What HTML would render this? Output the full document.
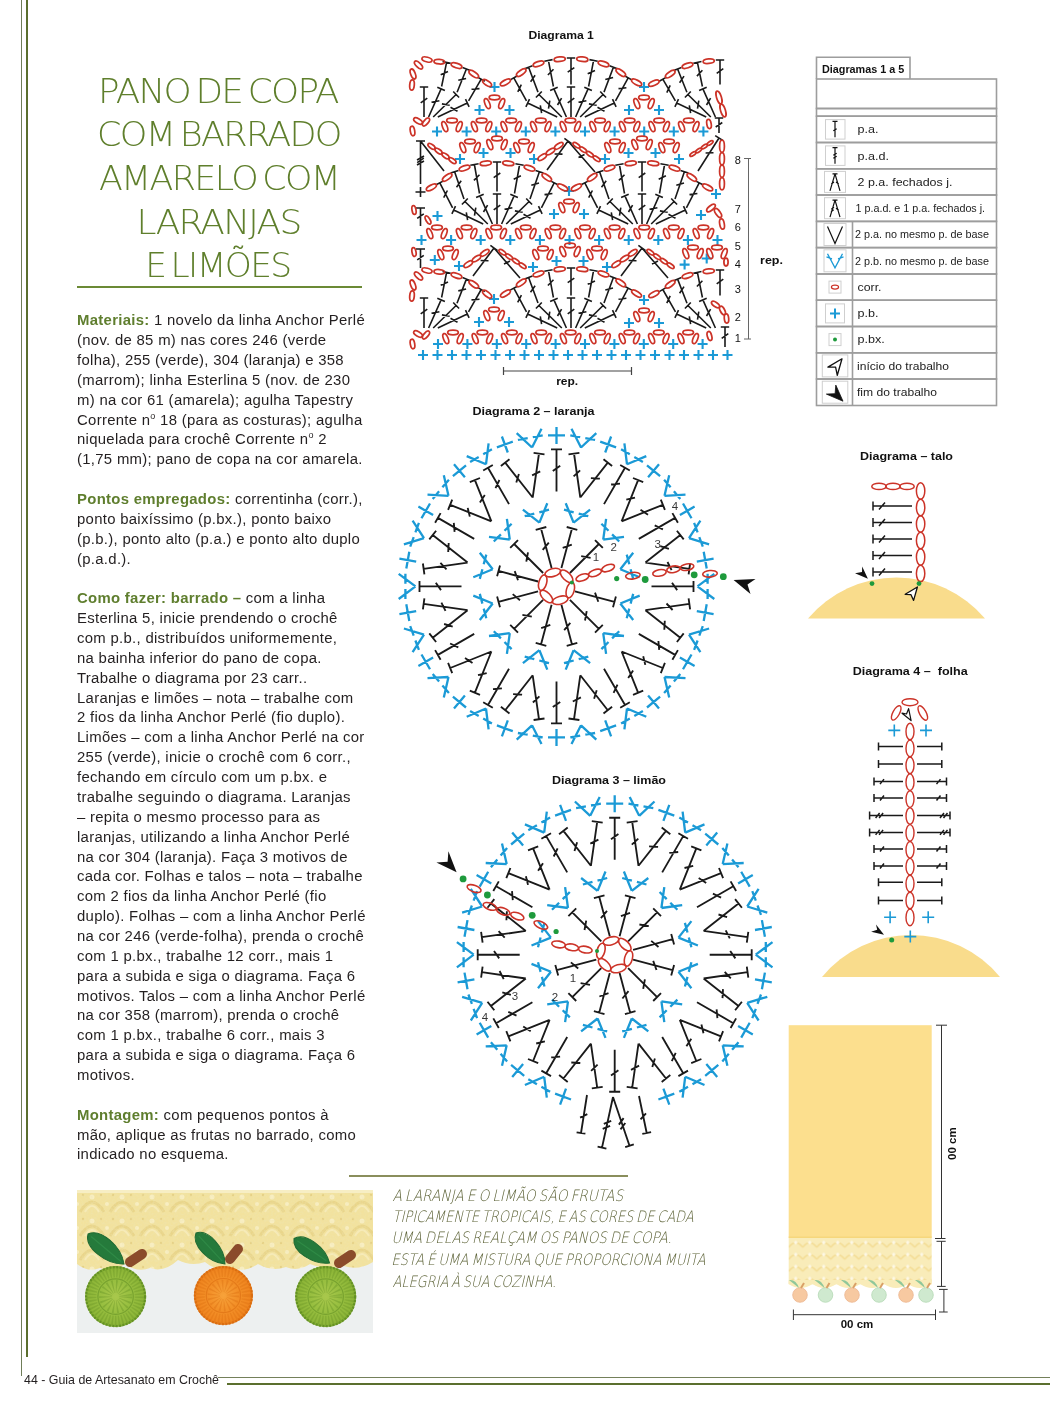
<!DOCTYPE html><html lang="pt"><head><meta charset="utf-8"><title>Pano de copa com barrado amarelo com laranjas e limões</title><style>
*{margin:0;padding:0;box-sizing:border-box}
html,body{width:1050px;height:1408px;background:#fff;overflow:hidden}
body{position:relative;font-family:"Liberation Sans",Arial,sans-serif;color:#231f20}
.abs{position:absolute}
.vl1{left:21px;top:0;width:1px;height:1376px;background:#6f7d58}
.vl2{left:26px;top:0;width:2px;height:1357px;background:#5b6f2e}
.hl1{left:218px;top:1377px;width:832px;height:1px;background:#74805a}
.hl2{left:227px;top:1383px;width:823px;height:2px;background:#5b6f2e}
.foot{left:24px;top:1372.5px;font-size:12.4px;line-height:14px;color:#231f20;white-space:nowrap}
.title{left:60px;top:72px;width:320px;text-align:center;color:#6b8a35;font-size:35.5px;line-height:43.3px;font-weight:300;white-space:nowrap}
.tline{left:77px;top:286px;width:285px;height:2px;background:#6b8a35}
.txt{left:77px;top:311.3px;font-size:14.9px;line-height:19.865px;letter-spacing:0.3px;white-space:nowrap;color:#231f20}
.txt sup{font-size:9px;line-height:0;vertical-align:0;position:relative;top:-6px}
.txt b{color:#5f7e2e}
.cap{left:393px;top:1184px;font-size:16px;line-height:21.6px;font-style:italic;color:#8a8e5c;white-space:nowrap}
.capline{left:349px;top:1175px;width:279px;height:2px;background:#8a8e5c}
.lbl{font-weight:bold;font-size:11.5px;white-space:nowrap;color:#111}
</style></head><body>
<div class="abs vl1"></div><div class="abs vl2"></div><div class="abs hl1"></div><div class="abs hl2"></div>
<div class="abs foot">44 - Guia de Artesanato em Crochê</div>
<svg class="abs" style="left:80px;top:60px" width="280" height="230" viewBox="80 60 280 230"><g font-family="DejaVu Sans, sans-serif" font-weight="200" font-size="33.9" fill="#5f7f2c" word-spacing="-4.0" letter-spacing="-1.6"><text x="98.1" y="103.4" textLength="239.8" lengthAdjust="spacingAndGlyphs">PANO DE COPA</text><text x="97.0" y="145.5" textLength="243.8" lengthAdjust="spacingAndGlyphs">COM BARRADO</text><text x="98.9" y="190.4" textLength="240.3" lengthAdjust="spacingAndGlyphs">AMARELO COM</text><text x="136.5" y="233.8" textLength="164.0" lengthAdjust="spacingAndGlyphs">LARANJAS</text><text x="145.2" y="277.1" textLength="145.3" lengthAdjust="spacingAndGlyphs">E LIMÕES</text></g></svg>
<div class="abs tline"></div>
<div class="abs txt"><b>Materiais:</b> 1 novelo da linha Anchor Perlé<br>(nov. de 85 m) nas cores 246 (verde<br>folha), 255 (verde), 304 (laranja) e 358<br>(marrom); linha Esterlina 5 (nov. de 230<br>m) na cor 61 (amarela); agulha Tapestry<br>Corrente n<sup>o</sup> 18 (para as costuras); agulha<br>niquelada para crochê Corrente n<sup>o</sup> 2<br>(1,75 mm); pano de copa na cor amarela.<br>&nbsp;<br><b>Pontos empregados:</b> correntinha (corr.),<br>ponto baixíssimo (p.bx.), ponto baixo<br>(p.b.), ponto alto (p.a.) e ponto alto duplo<br>(p.a.d.).<br>&nbsp;<br><b>Como fazer: barrado –</b> com a linha<br>Esterlina 5, inicie prendendo o crochê<br>com p.b., distribuídos uniformemente,<br>na bainha inferior do pano de copa.<br>Trabalhe o diagrama por 23 carr..<br>Laranjas e limões – nota – trabalhe com<br>2 fios da linha Anchor Perlé (fio duplo).<br>Limões – com a linha Anchor Perlé na cor<br>255 (verde), inicie o crochê com 6 corr.,<br>fechando em círculo com um p.bx. e<br>trabalhe seguindo o diagrama. Laranjas<br>– repita o mesmo processo para as<br>laranjas, utilizando a linha Anchor Perlé<br>na cor 304 (laranja). Faça 3 motivos de<br>cada cor. Folhas e talos – nota – trabalhe<br>com 2 fios da linha Anchor Perlé (fio<br>duplo). Folhas – com a linha Anchor Perlé<br>na cor 246 (verde-folha), prenda o crochê<br>com 1 p.bx., trabalhe 12 corr., mais 1<br>para a subida e siga o diagrama. Faça 6<br>motivos. Talos – com a linha Anchor Perlé<br>na cor 358 (marrom), prenda o crochê<br>com 1 p.bx., trabalhe 6 corr., mais 3<br>para a subida e siga o diagrama. Faça 6<br>motivos.<br>&nbsp;<br><b>Montagem:</b> com pequenos pontos à<br>mão, aplique as frutas no barrado, como<br>indicado no esquema.</div>
<div class="abs capline"></div>
<svg class="abs" style="left:385px;top:1180px" width="330" height="115" viewBox="385 1180 330 115"><g font-family="DejaVu Sans, sans-serif" font-weight="200" font-size="15.8" fill="#5c6236" word-spacing="-1.5"><text transform="translate(392.4 1200.9) skewX(-13)" textLength="230.7" lengthAdjust="spacingAndGlyphs">A LARANJA E O LIMÃO SÃO FRUTAS</text><text transform="translate(392.6 1222.3) skewX(-13)" textLength="301.0" lengthAdjust="spacingAndGlyphs">TIPICAMENTE TROPICAIS, E AS CORES DE CADA</text><text transform="translate(391.4 1243.4) skewX(-13)" textLength="280.4" lengthAdjust="spacingAndGlyphs">UMA DELAS REALÇAM OS PANOS DE COPA.</text><text transform="translate(391.2 1265.2) skewX(-13)" textLength="314.3" lengthAdjust="spacingAndGlyphs">ESTA É UMA MISTURA QUE PROPORCIONA MUITA</text><text transform="translate(392.4 1286.6) skewX(-13)" textLength="163.7" lengthAdjust="spacingAndGlyphs">ALEGRIA À SUA COZINHA.</text></g></svg>
<svg class="abs" style="left:77px;top:1190px" width="296" height="143" viewBox="77 1190 296 143"><defs><pattern id="knit" x="77" y="1190" width="30" height="24" patternUnits="userSpaceOnUse"><rect width="30" height="24" fill="#f2e29e"/><path d="M3 22 Q15 2 27 22" fill="none" stroke="#e9d58a" stroke-width="3"/><path d="M8 22 Q15 10 22 22" fill="none" stroke="#f7ebb8" stroke-width="2"/><circle cx="15" cy="7" r="2.5" fill="#f8eec2"/><circle cx="0" cy="14" r="2" fill="#f8eec2"/><circle cx="30" cy="14" r="2" fill="#f8eec2"/><circle cx="6" cy="5" r="1.2" fill="#e6d185"/><circle cx="24" cy="5" r="1.2" fill="#e6d185"/></pattern><filter id="grain" x="0" y="0" width="100%" height="100%"><feTurbulence type="fractalNoise" baseFrequency="0.45" numOctaves="2" seed="3"/><feColorMatrix values="0 0 0 0 0.85  0 0 0 0 0.78  0 0 0 0 0.45  0 0 0 0.9 -0.35"/><feComposite in2="SourceGraphic" operator="in"/></filter><radialGradient id="lime" cx="50%" cy="50%" r="50%"><stop offset="0" stop-color="#a9c84c"/><stop offset="0.5" stop-color="#98bf40"/><stop offset="0.9" stop-color="#8db638"/><stop offset="1" stop-color="#7aa62e"/></radialGradient><radialGradient id="orng" cx="50%" cy="50%" r="50%"><stop offset="0" stop-color="#f7a23a"/><stop offset="0.5" stop-color="#f39028"/><stop offset="0.9" stop-color="#f08620"/><stop offset="1" stop-color="#e27818"/></radialGradient></defs><rect x="77" y="1190" width="296" height="143" fill="#edf0f0"/><path d="M77 1190H373V1262 Q358.5 1271 344 1266 Q327 1271 310 1264 Q298 1272 286 1267 Q272 1272 258 1264 Q244.5 1273 231 1268 Q218 1273 205 1262 Q191.5 1267 178 1260 Q164 1273 150 1268 Q137.5 1273 125 1264 Q112.5 1273 100 1268 Q88.5 1273 77 1264Z" fill="url(#knit)"/><path d="M77 1190H373V1262 Q358.5 1271 344 1266 Q327 1271 310 1264 Q298 1272 286 1267 Q272 1272 258 1264 Q244.5 1273 231 1268 Q218 1273 205 1262 Q191.5 1267 178 1260 Q164 1273 150 1268 Q137.5 1273 125 1264 Q112.5 1273 100 1268 Q88.5 1273 77 1264Z" fill="#f2e29e" filter="url(#grain)"/><rect x="77" y="1190" width="296" height="3" fill="#f7eec4"/><path d="M130 1262L142 1254" stroke="#8b4b2b" stroke-width="10" stroke-linecap="round"/><path d="M230 1259L238 1249" stroke="#8b4b2b" stroke-width="10" stroke-linecap="round"/><path d="M339 1263L351 1255" stroke="#8b4b2b" stroke-width="10" stroke-linecap="round"/><g transform="translate(106 1249) rotate(39.8)"><path d="M-23.4 0C-17.6 -13 10.5 -11.7 23.4 0C10.5 11.7 -17.6 13 -23.4 0Z" fill="#257a3b" stroke="#1f6a33" stroke-width="1"/><path d="M-19.4 0H19.4" stroke="#2f8a46" stroke-width="1.2"/></g><g transform="translate(210.5 1248.5) rotate(46.9)"><path d="M-21.2 0C-15.9 -12 9.6 -10.8 21.2 0C9.6 10.8 -15.9 12 -21.2 0Z" fill="#257a3b" stroke="#1f6a33" stroke-width="1"/><path d="M-17.2 0H17.2" stroke="#2f8a46" stroke-width="1.2"/></g><g transform="translate(311.8 1250.8) rotate(34.6)"><path d="M-21.6 0C-16.2 -12 9.7 -10.8 21.6 0C9.7 10.8 -16.2 12 -21.6 0Z" fill="#257a3b" stroke="#1f6a33" stroke-width="1"/><path d="M-17.6 0H17.6" stroke="#2f8a46" stroke-width="1.2"/></g><circle cx="115.6" cy="1296.6" r="30.5" fill="url(#lime)"/><circle cx="115.6" cy="1296.6" r="10.1" fill="none" stroke="#5f8c22" stroke-width="12.8" stroke-dasharray="1.2 2.2" opacity="0.35"/><circle cx="115.6" cy="1296.6" r="17.7" fill="none" stroke="#5f8c22" stroke-width="1.2" opacity="0.55"/><circle cx="115.6" cy="1296.6" r="23.8" fill="none" stroke="#5f8c22" stroke-width="9.2" stroke-dasharray="1.5 1.8" opacity="0.3"/><circle cx="115.6" cy="1296.6" r="29.5" fill="none" stroke="#5f8c22" stroke-width="2.2" stroke-dasharray="2 1.4" opacity="0.85"/><circle cx="223.4" cy="1295.6" r="29.5" fill="url(#orng)"/><circle cx="223.4" cy="1295.6" r="9.7" fill="none" stroke="#d86a0e" stroke-width="12.4" stroke-dasharray="1.2 2.2" opacity="0.35"/><circle cx="223.4" cy="1295.6" r="17.1" fill="none" stroke="#d86a0e" stroke-width="1.2" opacity="0.55"/><circle cx="223.4" cy="1295.6" r="23" fill="none" stroke="#d86a0e" stroke-width="8.8" stroke-dasharray="1.5 1.8" opacity="0.3"/><circle cx="223.4" cy="1295.6" r="28.5" fill="none" stroke="#d86a0e" stroke-width="2.2" stroke-dasharray="2 1.4" opacity="0.85"/><circle cx="325.7" cy="1296.6" r="30.5" fill="url(#lime)"/><circle cx="325.7" cy="1296.6" r="10.1" fill="none" stroke="#5f8c22" stroke-width="12.8" stroke-dasharray="1.2 2.2" opacity="0.35"/><circle cx="325.7" cy="1296.6" r="17.7" fill="none" stroke="#5f8c22" stroke-width="1.2" opacity="0.55"/><circle cx="325.7" cy="1296.6" r="23.8" fill="none" stroke="#5f8c22" stroke-width="9.2" stroke-dasharray="1.5 1.8" opacity="0.3"/><circle cx="325.7" cy="1296.6" r="29.5" fill="none" stroke="#5f8c22" stroke-width="2.2" stroke-dasharray="2 1.4" opacity="0.85"/></svg>
<svg class="abs" style="left:400px;top:20px" width="400" height="375" viewBox="400 20 400 375"><path d="M719 133L719 118M714.8 118L723.2 118M715.7 127L722.3 122.5M557.2 328L527.7 314M525.9 317.8L529.5 310.2M541.6 324.2L540.3 316.4M526.5 311.8L513.8 288.1M510.1 290.1L517.5 286.2M517.7 302.4L521.4 295.2M561.8 328L538.9 305.5M535.9 308.5L541.8 302.5M548.5 319.6L549.8 311.7M538 303.1L528.6 277.4M524.6 278.9L532.5 276M530.5 292.3L535.1 285.7M566.4 328L553.9 299.9M550.1 301.6L557.7 298.2M557.5 316L561.6 309.1M553.4 297.5L548.4 270.4M544.3 271.2L552.6 269.7M547.9 285.5L553.5 279.7M571 328L571 298M566.8 298L575.2 298M567.7 313.8L574.3 309.2M571 295.5L571 268M566.8 268L575.2 268M567.7 282.7L574.3 278.1M575.6 328L588.1 299.9M584.3 298.2L591.9 301.6M578.5 313.3L586.4 311.8M588.6 297.5L593.6 270.4M589.4 269.7L597.7 271.2M587.7 284.3L595 280.9M580.2 328L603.1 305.5M600.2 302.5L606.1 308.5M588.9 314.9L596.7 316.3M604 303.1L613.4 277.4M609.5 276L617.4 278.9M605.3 290L613 288M584.8 328L614.3 314M612.5 310.2L616.1 317.8M597.5 318.3L604.5 322.3M615.5 311.8L628.2 288.1M624.5 286.2L631.9 290.1M618.5 299.3L626.4 298.3M424 328L424 298M419.8 298L428.2 298M420.7 313.8L427.3 309.2M428.6 328L441.1 299.9M437.3 298.2L444.9 301.6M431.5 313.3L439.4 311.8M441.6 297.5L446.6 272.4M442.5 271.5L450.7 273.2M440.7 285.3L448 282M433.2 328L456.1 305.5M453.2 302.5L459.1 308.5M441.9 314.9L449.7 316.3M457 303.2L466.4 279.1M462.5 277.6L470.3 280.7M458.3 290.9L466.1 289M437.8 328L467.3 314M465.5 310.2L469.1 317.8M450.5 318.3L457.5 322.3M468.5 311.8L481.2 289.5M477.5 287.4L484.8 291.6M471.5 299.9L479.5 299.2M706.2 328L676.7 314M674.9 317.8L678.5 310.2M690.6 324.2L689.3 316.4M675.5 311.8L662.8 289.5M659.2 291.6L666.5 287.4M666.8 303.2L670.2 295.9M710.8 328L687.9 305.5M684.9 308.5L690.8 302.5M697.5 319.6L698.8 311.7M687 303.2L677.6 279.1M673.7 280.7L681.5 277.6M679.6 293.3L684 286.6M715.4 328L702.9 299.9M699.1 301.6L706.7 298.2M706.5 316L710.6 309.1M702.4 297.5L697.4 272.4M693.3 273.2L701.5 271.5M696.9 286.5L702.4 280.8M720 295.5L720 270M715.8 270L724.2 270M716.7 283.8L723.3 279.2M483.2 224L453.7 210M451.9 213.8L455.5 206.2M467.6 220.2L466.3 212.4M452.6 207.8L439.8 182.8M436.1 184.7L443.6 180.9M443.7 197.6L447.4 190.5M487.8 224L464.9 201.5M461.9 204.5L467.8 198.5M474.5 215.6L475.8 207.7M464 199.1L454.6 171.7M450.6 173.1L458.5 170.4M456.5 187.3L461.2 180.8M492.4 224L479.9 195.9M476.1 197.6L483.7 194.2M483.5 212L487.6 205.1M479.5 193.5L474.4 164.5M470.3 165.2L478.6 163.8M473.9 180.4L479.5 174.7M497 224L497 194M492.8 194L501.2 194M493.7 209.8L500.3 205.2M497 191.5L497 162M492.8 162L501.2 162M493.7 177.6L500.3 173M501.6 224L514.1 195.9M510.3 194.2L517.9 197.6M504.5 209.3L512.4 207.8M514.5 193.5L519.6 164.5M515.4 163.8L523.7 165.2M513.7 179.2L520.9 175.8M506.2 224L529.1 201.5M526.2 198.5L532.1 204.5M514.9 210.9L522.7 212.3M530 199.1L539.4 171.7M535.5 170.4L543.4 173.1M531.3 185.2L539 183M510.8 224L540.3 210M538.5 206.2L542.1 213.8M523.5 214.3L530.5 218.3M541.4 207.8L554.2 182.8M550.4 180.9L557.9 184.7M544.5 194.6L552.4 193.5M628.2 224L598.7 210M596.9 213.8L600.5 206.2M612.6 220.2L611.3 212.4M597.6 207.8L584.8 182.8M581.1 184.7L588.6 180.9M588.7 197.6L592.4 190.5M632.8 224L609.9 201.5M606.9 204.5L612.8 198.5M619.5 215.6L620.8 207.7M609 199.1L599.6 171.7M595.6 173.1L603.5 170.4M601.5 187.3L606.2 180.8M637.4 224L624.9 195.9M621.1 197.6L628.7 194.2M628.5 212L632.6 205.1M624.5 193.5L619.4 164.5M615.3 165.2L623.6 163.8M618.9 180.4L624.5 174.7M642 224L642 194M637.8 194L646.2 194M638.7 209.8L645.3 205.2M642 191.5L642 162M637.8 162L646.2 162M638.7 177.6L645.3 173M646.6 224L659.1 195.9M655.3 194.2L662.9 197.6M649.5 209.3L657.4 207.8M659.5 193.5L664.6 164.5M660.4 163.8L668.7 165.2M658.7 179.2L665.9 175.8M651.2 224L674.1 201.5M671.2 198.5L677.1 204.5M659.9 210.9L667.7 212.3M675 199.1L684.4 171.7M680.5 170.4L688.4 173.1M676.3 185.2L684 183M655.8 224L685.3 210M683.5 206.2L687.1 213.8M668.5 214.3L675.5 218.3M686.4 207.8L699.2 182.8M695.4 180.9L702.9 184.7M689.5 194.6L697.4 193.5M415.5 192L425.5 192M420.5 187L420.5 197M557.2 117L527.7 103M525.9 106.8L529.5 99.2M541.6 113.2L540.3 105.4M526.5 100.8L513.8 77.8M510.2 79.9L517.5 75.8M517.8 91.8L521.3 84.6M561.8 117L538.9 94.5M535.9 97.5L541.8 91.5M548.5 108.6L549.8 100.7M538 92.1L528.6 67.3M524.6 68.8L532.5 65.8M530.6 81.8L535.1 75.2M566.4 117L553.9 88.9M550.1 90.6L557.7 87.2M557.5 105L561.6 98.1M553.4 86.5L548.4 60.4M544.3 61.2L552.6 59.6M547.9 75L553.5 69.3M571 117L571 87M566.8 87L575.2 87M567.7 102.8L574.3 98.2M571 84.5L571 58M566.8 58L575.2 58M567.7 72.2L574.3 67.6M575.6 117L588.1 88.9M584.3 87.2L591.9 90.6M578.5 102.3L586.4 100.8M588.6 86.5L593.6 60.4M589.4 59.6L597.7 61.2M587.7 73.8L595 70.5M580.2 117L603.1 94.5M600.2 91.5L606.1 97.5M588.9 103.9L596.7 105.3M604 92.1L613.4 67.3M609.5 65.8L617.4 68.8M605.3 79.5L613.1 77.5M584.8 117L614.3 103M612.5 99.2L616.1 106.8M597.5 107.3L604.5 111.3M615.5 100.8L628.2 77.8M624.5 75.8L631.8 79.9M618.5 88.6L626.4 87.7M424 117L424 87M419.8 87L428.2 87M420.7 102.8L427.3 98.2M428.6 117L441.1 88.9M437.3 87.2L444.9 90.6M431.5 102.3L439.4 100.8M441.6 86.5L446.6 62.3M442.5 61.5L450.7 63.2M440.7 74.8L448 71.6M433.2 117L456.1 94.5M453.2 91.5L459.1 97.5M441.9 103.9L449.7 105.3M457.1 92.2L466.4 69M462.5 67.4L470.3 70.5M458.3 80.3L466.1 78.5M437.8 117L467.3 103M465.5 99.2L469.1 106.8M450.5 107.3L457.5 111.3M468.6 100.8L481.2 79.2M477.5 77.1L484.8 81.3M471.5 89.3L479.5 88.6M706.2 117L676.7 103M674.9 106.8L678.5 99.2M690.6 113.2L689.3 105.4M675.4 100.8L662.8 79.2M659.2 81.3L666.5 77.1M666.8 92.6L670.2 85.3M710.8 117L687.9 94.5M684.9 97.5L690.8 91.5M697.5 108.6L698.8 100.7M686.9 92.2L677.6 69M673.7 70.5L681.5 67.4M679.6 82.8L684 76.1M715.4 117L702.9 88.9M699.1 90.6L706.7 87.2M706.5 105L710.6 98.1M702.4 86.5L697.4 62.3M693.3 63.2L701.5 61.5M696.9 76.1L702.4 70.3M720 84.5L720 60M715.8 60L724.2 60M716.7 73.3L723.3 68.7M473 276L494 248M490.4 245.3L497.6 250.7M480.6 260.5L488.5 260.7M494 248L520 278M504 264L510 261M621 276L642 248M638.4 245.3L645.6 250.7M628.6 260.5L636.5 260.7M642 248L668 278M652 264L658 261M547 170L568 141M564.4 138.4L571.6 143.6M554.6 154L562.5 154.1M568 141L595 172M578.5 157.5L584.5 154.5M420.5 184L420.5 141M416 141L425 141M417.2 162.6L423.8 158.1M420.5 141L444 171M417 160L424 156M417 165L424 161M420.5 226L420.5 208M416 208L425 208M417.2 218.4L423.8 213.8M420.5 268L420.5 249M416 249L425 249M417.2 259.8L423.8 255.3M725 347L725 327M720.8 327L729.2 327M721.7 338.3L728.3 333.7M698 171L719 138M715.2 135.6L722.8 140.4M705.6 153L713.5 152.7" fill="none" stroke="#1a1a1a" stroke-width="1.6" stroke-linecap="butt"/><path d="M418 355L428 355M423 350L423 360M432.5 355L442.5 355M437.5 350L437.5 360M447 355L457 355M452 350L452 360M461.5 355L471.5 355M466.5 350L466.5 360M476 355L486 355M481 350L481 360M490.5 355L500.5 355M495.5 350L495.5 360M505 355L515 355M510 350L510 360M519.5 355L529.5 355M524.5 350L524.5 360M534 355L544 355M539 350L539 360M548.5 355L558.5 355M553.5 350L553.5 360M563 355L573 355M568 350L568 360M577.5 355L587.5 355M582.5 350L582.5 360M592 355L602 355M597 350L597 360M606.5 355L616.5 355M611.5 350L611.5 360M621 355L631 355M626 350L626 360M635.5 355L645.5 355M640.5 350L640.5 360M650 355L660 355M655 350L655 360M664.5 355L674.5 355M669.5 350L669.5 360M679 355L689 355M684 350L684 360M693.5 355L703.5 355M698.5 350L698.5 360M708 355L718 355M713 350L713 360M722.5 355L732.5 355M727.5 350L727.5 360M433 344L443 344M438 339L438 349M462.4 344L472.4 344M467.4 339L467.4 349M491.8 344L501.8 344M496.8 339L496.8 349M521.2 344L531.2 344M526.2 339L526.2 349M550.6 344L560.6 344M555.6 339L555.6 349M580 344L590 344M585 339L585 349M609.4 344L619.4 344M614.4 339L614.4 349M638.8 344L648.8 344M643.8 339L643.8 349M668.2 344L678.2 344M673.2 339L673.2 349M697.6 344L707.6 344M702.6 339L702.6 349M416.5 240L426.5 240M421.5 235L421.5 245M446.1 240L456.1 240M451.1 235L451.1 245M475.7 240L485.7 240M480.7 235L480.7 245M505.3 240L515.3 240M510.3 235L510.3 245M534.9 240L544.9 240M539.9 235L539.9 245M564.5 240L574.5 240M569.5 235L569.5 245M594.1 240L604.1 240M599.1 235L599.1 245M623.7 240L633.7 240M628.7 235L628.7 245M653.3 240L663.3 240M658.3 235L658.3 245M682.9 240L692.9 240M687.9 235L687.9 245M712.5 240L722.5 240M717.5 235L717.5 245M432 131.5L442 131.5M437 126.5L437 136.5M461.6 131.5L471.6 131.5M466.6 126.5L466.6 136.5M491.2 131.5L501.2 131.5M496.2 126.5L496.2 136.5M520.8 131.5L530.8 131.5M525.8 126.5L525.8 136.5M550.4 131.5L560.4 131.5M555.4 126.5L555.4 136.5M580 131.5L590 131.5M585 126.5L585 136.5M609.6 131.5L619.6 131.5M614.6 126.5L614.6 136.5M639.2 131.5L649.2 131.5M644.2 126.5L644.2 136.5M668.8 131.5L678.8 131.5M673.8 126.5L673.8 136.5M698.4 131.5L708.4 131.5M703.4 126.5L703.4 136.5M489 299L499 299M494 294L494 304M474 322L484 322M479 317L479 327M504 322L514 322M509 317L509 327M639 300L649 300M644 295L644 305M624 323L634 323M629 318L629 328M654 323L664 323M659 318L659 328M564 191L574 191M569 186L569 196M549 214L559 214M554 209L554 219M579 214L589 214M584 209L584 219M711 194L721 194M716 189L716 199M489.5 87L499.5 87M494.5 82L494.5 92M474.5 110L484.5 110M479.5 105L479.5 115M504.5 110L514.5 110M509.5 105L509.5 115M639 87L649 87M644 82L644 92M624 110L634 110M629 105L629 115M654 110L664 110M659 105L659 115M551.5 261L561.5 261M556.5 256L556.5 266M578.5 261L588.5 261M583.5 256L583.5 266M528 267L538 267M533 262L533 272M602 267L612 267M607 262L607 272M429.8 260L439.8 260M434.8 255L434.8 265M454 266L464 266M459 261L459 271M679.6 264.6L689.6 264.6M684.6 259.6L684.6 269.6M701.7 258.5L711.7 258.5M706.7 253.5L706.7 263.5M478.5 153L488.5 153M483.5 148L483.5 158M505.5 153L515.5 153M510.5 148L510.5 158M455 159L465 159M460 154L460 164M529 159L539 159M534 154L534 164M623.5 153L633.5 153M628.5 148L628.5 158M650.5 153L660.5 153M655.5 148L655.5 158M600 159L610 159M605 154L605 164M674 159L684 159M679 154L679 164M696 215L706 215M701 210L701 220M432.5 216L442.5 216M437.5 211L437.5 221" fill="none" stroke="#1b9ad6" stroke-width="2.1"/><g fill="none" stroke="#cc3328" stroke-width="1.75"><ellipse cx="453" cy="332.5" rx="5.3" ry="2.3"/><ellipse cx="445.8" cy="338.6" rx="5.3" ry="2.3" transform="rotate(68 445.8 338.6)"/><ellipse cx="460.2" cy="338.6" rx="5.3" ry="2.3" transform="rotate(-68 460.2 338.6)"/><ellipse cx="482.4" cy="332.5" rx="5.3" ry="2.3"/><ellipse cx="475.2" cy="338.6" rx="5.3" ry="2.3" transform="rotate(68 475.2 338.6)"/><ellipse cx="489.6" cy="338.6" rx="5.3" ry="2.3" transform="rotate(-68 489.6 338.6)"/><ellipse cx="511.8" cy="332.5" rx="5.3" ry="2.3"/><ellipse cx="504.6" cy="338.6" rx="5.3" ry="2.3" transform="rotate(68 504.6 338.6)"/><ellipse cx="519" cy="338.6" rx="5.3" ry="2.3" transform="rotate(-68 519 338.6)"/><ellipse cx="541.2" cy="332.5" rx="5.3" ry="2.3"/><ellipse cx="534" cy="338.6" rx="5.3" ry="2.3" transform="rotate(68 534 338.6)"/><ellipse cx="548.4" cy="338.6" rx="5.3" ry="2.3" transform="rotate(-68 548.4 338.6)"/><ellipse cx="570.6" cy="332.5" rx="5.3" ry="2.3"/><ellipse cx="563.4" cy="338.6" rx="5.3" ry="2.3" transform="rotate(68 563.4 338.6)"/><ellipse cx="577.8" cy="338.6" rx="5.3" ry="2.3" transform="rotate(-68 577.8 338.6)"/><ellipse cx="600" cy="332.5" rx="5.3" ry="2.3"/><ellipse cx="592.8" cy="338.6" rx="5.3" ry="2.3" transform="rotate(68 592.8 338.6)"/><ellipse cx="607.2" cy="338.6" rx="5.3" ry="2.3" transform="rotate(-68 607.2 338.6)"/><ellipse cx="629.4" cy="332.5" rx="5.3" ry="2.3"/><ellipse cx="622.2" cy="338.6" rx="5.3" ry="2.3" transform="rotate(68 622.2 338.6)"/><ellipse cx="636.6" cy="338.6" rx="5.3" ry="2.3" transform="rotate(-68 636.6 338.6)"/><ellipse cx="658.8" cy="332.5" rx="5.3" ry="2.3"/><ellipse cx="651.6" cy="338.6" rx="5.3" ry="2.3" transform="rotate(68 651.6 338.6)"/><ellipse cx="666" cy="338.6" rx="5.3" ry="2.3" transform="rotate(-68 666 338.6)"/><ellipse cx="688.2" cy="332.5" rx="5.3" ry="2.3"/><ellipse cx="681" cy="338.6" rx="5.3" ry="2.3" transform="rotate(68 681 338.6)"/><ellipse cx="695.4" cy="338.6" rx="5.3" ry="2.3" transform="rotate(-68 695.4 338.6)"/><ellipse cx="709.5" cy="336" rx="4.6" ry="2.2" transform="rotate(75 709.5 336)"/><ellipse cx="437" cy="227.5" rx="5.3" ry="2.3"/><ellipse cx="429.8" cy="233.6" rx="5.3" ry="2.3" transform="rotate(68 429.8 233.6)"/><ellipse cx="444.2" cy="233.6" rx="5.3" ry="2.3" transform="rotate(-68 444.2 233.6)"/><ellipse cx="466.6" cy="227.5" rx="5.3" ry="2.3"/><ellipse cx="459.4" cy="233.6" rx="5.3" ry="2.3" transform="rotate(68 459.4 233.6)"/><ellipse cx="473.8" cy="233.6" rx="5.3" ry="2.3" transform="rotate(-68 473.8 233.6)"/><ellipse cx="496.2" cy="227.5" rx="5.3" ry="2.3"/><ellipse cx="489" cy="233.6" rx="5.3" ry="2.3" transform="rotate(68 489 233.6)"/><ellipse cx="503.4" cy="233.6" rx="5.3" ry="2.3" transform="rotate(-68 503.4 233.6)"/><ellipse cx="525.8" cy="227.5" rx="5.3" ry="2.3"/><ellipse cx="518.6" cy="233.6" rx="5.3" ry="2.3" transform="rotate(68 518.6 233.6)"/><ellipse cx="533" cy="233.6" rx="5.3" ry="2.3" transform="rotate(-68 533 233.6)"/><ellipse cx="555.4" cy="227.5" rx="5.3" ry="2.3"/><ellipse cx="548.2" cy="233.6" rx="5.3" ry="2.3" transform="rotate(68 548.2 233.6)"/><ellipse cx="562.6" cy="233.6" rx="5.3" ry="2.3" transform="rotate(-68 562.6 233.6)"/><ellipse cx="585" cy="227.5" rx="5.3" ry="2.3"/><ellipse cx="577.8" cy="233.6" rx="5.3" ry="2.3" transform="rotate(68 577.8 233.6)"/><ellipse cx="592.2" cy="233.6" rx="5.3" ry="2.3" transform="rotate(-68 592.2 233.6)"/><ellipse cx="614.6" cy="227.5" rx="5.3" ry="2.3"/><ellipse cx="607.4" cy="233.6" rx="5.3" ry="2.3" transform="rotate(68 607.4 233.6)"/><ellipse cx="621.8" cy="233.6" rx="5.3" ry="2.3" transform="rotate(-68 621.8 233.6)"/><ellipse cx="644.2" cy="227.5" rx="5.3" ry="2.3"/><ellipse cx="637" cy="233.6" rx="5.3" ry="2.3" transform="rotate(68 637 233.6)"/><ellipse cx="651.4" cy="233.6" rx="5.3" ry="2.3" transform="rotate(-68 651.4 233.6)"/><ellipse cx="673.8" cy="227.5" rx="5.3" ry="2.3"/><ellipse cx="666.6" cy="233.6" rx="5.3" ry="2.3" transform="rotate(68 666.6 233.6)"/><ellipse cx="681" cy="233.6" rx="5.3" ry="2.3" transform="rotate(-68 681 233.6)"/><ellipse cx="703.4" cy="227.5" rx="5.3" ry="2.3"/><ellipse cx="696.2" cy="233.6" rx="5.3" ry="2.3" transform="rotate(68 696.2 233.6)"/><ellipse cx="710.6" cy="233.6" rx="5.3" ry="2.3" transform="rotate(-68 710.6 233.6)"/><ellipse cx="452" cy="120.5" rx="5.3" ry="2.3"/><ellipse cx="444.8" cy="126.6" rx="5.3" ry="2.3" transform="rotate(68 444.8 126.6)"/><ellipse cx="459.2" cy="126.6" rx="5.3" ry="2.3" transform="rotate(-68 459.2 126.6)"/><ellipse cx="481.6" cy="120.5" rx="5.3" ry="2.3"/><ellipse cx="474.4" cy="126.6" rx="5.3" ry="2.3" transform="rotate(68 474.4 126.6)"/><ellipse cx="488.8" cy="126.6" rx="5.3" ry="2.3" transform="rotate(-68 488.8 126.6)"/><ellipse cx="511.2" cy="120.5" rx="5.3" ry="2.3"/><ellipse cx="504" cy="126.6" rx="5.3" ry="2.3" transform="rotate(68 504 126.6)"/><ellipse cx="518.4" cy="126.6" rx="5.3" ry="2.3" transform="rotate(-68 518.4 126.6)"/><ellipse cx="540.8" cy="120.5" rx="5.3" ry="2.3"/><ellipse cx="533.6" cy="126.6" rx="5.3" ry="2.3" transform="rotate(68 533.6 126.6)"/><ellipse cx="548" cy="126.6" rx="5.3" ry="2.3" transform="rotate(-68 548 126.6)"/><ellipse cx="570.4" cy="120.5" rx="5.3" ry="2.3"/><ellipse cx="563.2" cy="126.6" rx="5.3" ry="2.3" transform="rotate(68 563.2 126.6)"/><ellipse cx="577.6" cy="126.6" rx="5.3" ry="2.3" transform="rotate(-68 577.6 126.6)"/><ellipse cx="600" cy="120.5" rx="5.3" ry="2.3"/><ellipse cx="592.8" cy="126.6" rx="5.3" ry="2.3" transform="rotate(68 592.8 126.6)"/><ellipse cx="607.2" cy="126.6" rx="5.3" ry="2.3" transform="rotate(-68 607.2 126.6)"/><ellipse cx="629.6" cy="120.5" rx="5.3" ry="2.3"/><ellipse cx="622.4" cy="126.6" rx="5.3" ry="2.3" transform="rotate(68 622.4 126.6)"/><ellipse cx="636.8" cy="126.6" rx="5.3" ry="2.3" transform="rotate(-68 636.8 126.6)"/><ellipse cx="659.2" cy="120.5" rx="5.3" ry="2.3"/><ellipse cx="652" cy="126.6" rx="5.3" ry="2.3" transform="rotate(68 652 126.6)"/><ellipse cx="666.4" cy="126.6" rx="5.3" ry="2.3" transform="rotate(-68 666.4 126.6)"/><ellipse cx="688.8" cy="120.5" rx="5.3" ry="2.3"/><ellipse cx="681.6" cy="126.6" rx="5.3" ry="2.3" transform="rotate(68 681.6 126.6)"/><ellipse cx="696" cy="126.6" rx="5.3" ry="2.3" transform="rotate(-68 696 126.6)"/><ellipse cx="709" cy="124" rx="4.6" ry="2.2" transform="rotate(80 709 124)"/><ellipse cx="505.4" cy="293.6" rx="5.6" ry="2.3" transform="rotate(-32.8 505.4 293.6)"/><ellipse cx="521.2" cy="282.8" rx="5.6" ry="2.3" transform="rotate(-36 521.2 282.8)"/><ellipse cx="538.5" cy="273.9" rx="5.6" ry="2.3" transform="rotate(-19.4 538.5 273.9)"/><ellipse cx="559.7" cy="269.2" rx="5.6" ry="2.3" transform="rotate(-6.1 559.7 269.2)"/><ellipse cx="582.3" cy="269.2" rx="5.6" ry="2.3" transform="rotate(6.1 582.3 269.2)"/><ellipse cx="603.5" cy="273.9" rx="5.6" ry="2.3" transform="rotate(19.4 603.5 273.9)"/><ellipse cx="620.8" cy="282.8" rx="5.6" ry="2.3" transform="rotate(36 620.8 282.8)"/><ellipse cx="636.6" cy="293.6" rx="5.6" ry="2.3" transform="rotate(32.8 636.6 293.6)"/><ellipse cx="439.3" cy="271.8" rx="5.3" ry="2.3" transform="rotate(4.5 439.3 271.8)"/><ellipse cx="456.5" cy="275.7" rx="5.6" ry="2.3" transform="rotate(18.8 456.5 275.7)"/><ellipse cx="473.8" cy="284.3" rx="5.6" ry="2.3" transform="rotate(35.2 473.8 284.3)"/><ellipse cx="487.1" cy="294.2" rx="5.5" ry="2.3" transform="rotate(38.7 487.1 294.2)"/><ellipse cx="653.9" cy="294.2" rx="5.6" ry="2.3" transform="rotate(-28 653.9 294.2)"/><ellipse cx="670.2" cy="284.3" rx="5.6" ry="2.3" transform="rotate(-35.2 670.2 284.3)"/><ellipse cx="687.5" cy="275.7" rx="5.6" ry="2.3" transform="rotate(-18.8 687.5 275.7)"/><ellipse cx="708.7" cy="271.2" rx="5.6" ry="2.3" transform="rotate(-5.9 708.7 271.2)"/><ellipse cx="494" cy="309.5" rx="5.3" ry="2.3"/><ellipse cx="486.8" cy="315.6" rx="5.3" ry="2.3" transform="rotate(68 486.8 315.6)"/><ellipse cx="501.2" cy="315.6" rx="5.3" ry="2.3" transform="rotate(-68 501.2 315.6)"/><ellipse cx="644" cy="310.5" rx="5.3" ry="2.3"/><ellipse cx="636.8" cy="316.6" rx="5.3" ry="2.3" transform="rotate(68 636.8 316.6)"/><ellipse cx="651.2" cy="316.6" rx="5.3" ry="2.3" transform="rotate(-68 651.2 316.6)"/><ellipse cx="431.4" cy="187.4" rx="5.6" ry="2.3" transform="rotate(-28.6 431.4 187.4)"/><ellipse cx="447.2" cy="177.3" rx="5.6" ry="2.3" transform="rotate(-36.9 447.2 177.3)"/><ellipse cx="464.5" cy="168.1" rx="5.6" ry="2.3" transform="rotate(-20 464.5 168.1)"/><ellipse cx="485.7" cy="163.3" rx="5.6" ry="2.3" transform="rotate(-6.3 485.7 163.3)"/><ellipse cx="508.3" cy="163.3" rx="5.6" ry="2.3" transform="rotate(6.3 508.3 163.3)"/><ellipse cx="529.5" cy="168.1" rx="5.6" ry="2.3" transform="rotate(20 529.5 168.1)"/><ellipse cx="546.8" cy="177.3" rx="5.6" ry="2.3" transform="rotate(36.9 546.8 177.3)"/><ellipse cx="562.6" cy="187.4" rx="5.6" ry="2.3" transform="rotate(28.6 562.6 187.4)"/><ellipse cx="576.4" cy="187.4" rx="5.6" ry="2.3" transform="rotate(-28.6 576.4 187.4)"/><ellipse cx="592.2" cy="177.3" rx="5.6" ry="2.3" transform="rotate(-36.9 592.2 177.3)"/><ellipse cx="609.5" cy="168.1" rx="5.6" ry="2.3" transform="rotate(-20 609.5 168.1)"/><ellipse cx="630.7" cy="163.3" rx="5.6" ry="2.3" transform="rotate(-6.3 630.7 163.3)"/><ellipse cx="653.3" cy="163.3" rx="5.6" ry="2.3" transform="rotate(6.3 653.3 163.3)"/><ellipse cx="674.5" cy="168.1" rx="5.6" ry="2.3" transform="rotate(20 674.5 168.1)"/><ellipse cx="691.8" cy="177.3" rx="5.6" ry="2.3" transform="rotate(36.9 691.8 177.3)"/><ellipse cx="707.6" cy="187.4" rx="5.6" ry="2.3" transform="rotate(28.6 707.6 187.4)"/><ellipse cx="569" cy="201.5" rx="5.3" ry="2.3"/><ellipse cx="561.8" cy="207.6" rx="5.3" ry="2.3" transform="rotate(68 561.8 207.6)"/><ellipse cx="576.2" cy="207.6" rx="5.3" ry="2.3" transform="rotate(-68 576.2 207.6)"/><ellipse cx="505.4" cy="82.4" rx="5.6" ry="2.3" transform="rotate(-28.6 505.4 82.4)"/><ellipse cx="521.2" cy="72.6" rx="5.6" ry="2.3" transform="rotate(-35.6 521.2 72.6)"/><ellipse cx="538.5" cy="63.8" rx="5.6" ry="2.3" transform="rotate(-19.1 538.5 63.8)"/><ellipse cx="559.7" cy="59.2" rx="5.6" ry="2.3" transform="rotate(-6 559.7 59.2)"/><ellipse cx="582.3" cy="59.2" rx="5.6" ry="2.3" transform="rotate(6 582.3 59.2)"/><ellipse cx="603.5" cy="63.8" rx="5.6" ry="2.3" transform="rotate(19.1 603.5 63.8)"/><ellipse cx="620.8" cy="72.6" rx="5.6" ry="2.3" transform="rotate(35.6 620.8 72.6)"/><ellipse cx="636.6" cy="82.4" rx="5.6" ry="2.3" transform="rotate(28.6 636.6 82.4)"/><ellipse cx="439.3" cy="61.7" rx="5.3" ry="2.3" transform="rotate(4.4 439.3 61.7)"/><ellipse cx="456.5" cy="65.6" rx="5.6" ry="2.3" transform="rotate(18.5 456.5 65.6)"/><ellipse cx="473.8" cy="74.1" rx="5.6" ry="2.3" transform="rotate(34.7 473.8 74.1)"/><ellipse cx="487.1" cy="83.1" rx="5.1" ry="2.3" transform="rotate(33.5 487.1 83.1)"/><ellipse cx="653.9" cy="83.1" rx="5.6" ry="2.3" transform="rotate(-23.7 653.9 83.1)"/><ellipse cx="670.2" cy="74.1" rx="5.6" ry="2.3" transform="rotate(-34.7 670.2 74.1)"/><ellipse cx="687.5" cy="65.6" rx="5.6" ry="2.3" transform="rotate(-18.5 687.5 65.6)"/><ellipse cx="708.7" cy="61.2" rx="5.6" ry="2.3" transform="rotate(-5.8 708.7 61.2)"/><ellipse cx="494.5" cy="97.5" rx="5.3" ry="2.3"/><ellipse cx="487.3" cy="103.6" rx="5.3" ry="2.3" transform="rotate(68 487.3 103.6)"/><ellipse cx="501.7" cy="103.6" rx="5.3" ry="2.3" transform="rotate(-68 501.7 103.6)"/><ellipse cx="644" cy="97.5" rx="5.3" ry="2.3"/><ellipse cx="636.8" cy="103.6" rx="5.3" ry="2.3" transform="rotate(68 636.8 103.6)"/><ellipse cx="651.2" cy="103.6" rx="5.3" ry="2.3" transform="rotate(-68 651.2 103.6)"/><ellipse cx="484.8" cy="252.8" rx="4.9" ry="2.2" transform="rotate(145.8 484.8 252.8)"/><ellipse cx="476.5" cy="258.5" rx="4.9" ry="2.2" transform="rotate(145.8 476.5 258.5)"/><ellipse cx="468.2" cy="264.2" rx="4.9" ry="2.2" transform="rotate(145.8 468.2 264.2)"/><ellipse cx="502.4" cy="252.2" rx="4" ry="1.8" transform="rotate(33.7 502.4 252.2)"/><ellipse cx="509.1" cy="256.8" rx="4" ry="1.8" transform="rotate(33.7 509.1 256.8)"/><ellipse cx="515.9" cy="261.2" rx="4" ry="1.8" transform="rotate(33.7 515.9 261.2)"/><ellipse cx="522.6" cy="265.8" rx="4" ry="1.8" transform="rotate(33.7 522.6 265.8)"/><ellipse cx="632.8" cy="252.8" rx="4.9" ry="2.2" transform="rotate(145.8 632.8 252.8)"/><ellipse cx="624.5" cy="258.5" rx="4.9" ry="2.2" transform="rotate(145.8 624.5 258.5)"/><ellipse cx="616.2" cy="264.2" rx="4.9" ry="2.2" transform="rotate(145.8 616.2 264.2)"/><ellipse cx="650.4" cy="252.2" rx="4" ry="1.8" transform="rotate(33.7 650.4 252.2)"/><ellipse cx="657.1" cy="256.8" rx="4" ry="1.8" transform="rotate(33.7 657.1 256.8)"/><ellipse cx="663.9" cy="261.2" rx="4" ry="1.8" transform="rotate(33.7 663.9 261.2)"/><ellipse cx="670.6" cy="265.8" rx="4" ry="1.8" transform="rotate(33.7 670.6 265.8)"/><ellipse cx="543" cy="248.5" rx="5.3" ry="2.3"/><ellipse cx="535.8" cy="254.6" rx="5.3" ry="2.3" transform="rotate(68 535.8 254.6)"/><ellipse cx="550.2" cy="254.6" rx="5.3" ry="2.3" transform="rotate(-68 550.2 254.6)"/><ellipse cx="570" cy="245.5" rx="5.3" ry="2.3"/><ellipse cx="562.8" cy="251.6" rx="5.3" ry="2.3" transform="rotate(68 562.8 251.6)"/><ellipse cx="577.2" cy="251.6" rx="5.3" ry="2.3" transform="rotate(-68 577.2 251.6)"/><ellipse cx="597" cy="248.5" rx="5.3" ry="2.3"/><ellipse cx="589.8" cy="254.6" rx="5.3" ry="2.3" transform="rotate(68 589.8 254.6)"/><ellipse cx="604.2" cy="254.6" rx="5.3" ry="2.3" transform="rotate(-68 604.2 254.6)"/><ellipse cx="448" cy="248.5" rx="5.3" ry="2.3"/><ellipse cx="440.8" cy="254.6" rx="5.3" ry="2.3" transform="rotate(68 440.8 254.6)"/><ellipse cx="455.2" cy="254.6" rx="5.3" ry="2.3" transform="rotate(-68 455.2 254.6)"/><ellipse cx="693" cy="247.5" rx="5.3" ry="2.3"/><ellipse cx="685.8" cy="253.6" rx="5.3" ry="2.3" transform="rotate(68 685.8 253.6)"/><ellipse cx="700.2" cy="253.6" rx="5.3" ry="2.3" transform="rotate(-68 700.2 253.6)"/><ellipse cx="717" cy="247.5" rx="5.3" ry="2.3"/><ellipse cx="709.8" cy="253.6" rx="5.3" ry="2.3" transform="rotate(68 709.8 253.6)"/><ellipse cx="724.2" cy="253.6" rx="5.3" ry="2.3" transform="rotate(-68 724.2 253.6)"/><ellipse cx="558.8" cy="145.8" rx="4.9" ry="2.2" transform="rotate(145.8 558.8 145.8)"/><ellipse cx="550.5" cy="151.5" rx="4.9" ry="2.2" transform="rotate(145.8 550.5 151.5)"/><ellipse cx="542.2" cy="157.2" rx="4.9" ry="2.2" transform="rotate(145.8 542.2 157.2)"/><ellipse cx="576.4" cy="145.2" rx="4" ry="1.8" transform="rotate(33.7 576.4 145.2)"/><ellipse cx="583.1" cy="149.8" rx="4" ry="1.8" transform="rotate(33.7 583.1 149.8)"/><ellipse cx="589.9" cy="154.2" rx="4" ry="1.8" transform="rotate(33.7 589.9 154.2)"/><ellipse cx="596.6" cy="158.8" rx="4" ry="1.8" transform="rotate(33.7 596.6 158.8)"/><ellipse cx="470" cy="141.5" rx="5.3" ry="2.3"/><ellipse cx="462.8" cy="147.6" rx="5.3" ry="2.3" transform="rotate(68 462.8 147.6)"/><ellipse cx="477.2" cy="147.6" rx="5.3" ry="2.3" transform="rotate(-68 477.2 147.6)"/><ellipse cx="497" cy="138.5" rx="5.3" ry="2.3"/><ellipse cx="489.8" cy="144.6" rx="5.3" ry="2.3" transform="rotate(68 489.8 144.6)"/><ellipse cx="504.2" cy="144.6" rx="5.3" ry="2.3" transform="rotate(-68 504.2 144.6)"/><ellipse cx="524" cy="141.5" rx="5.3" ry="2.3"/><ellipse cx="516.8" cy="147.6" rx="5.3" ry="2.3" transform="rotate(68 516.8 147.6)"/><ellipse cx="531.2" cy="147.6" rx="5.3" ry="2.3" transform="rotate(-68 531.2 147.6)"/><ellipse cx="615" cy="141.5" rx="5.3" ry="2.3"/><ellipse cx="607.8" cy="147.6" rx="5.3" ry="2.3" transform="rotate(68 607.8 147.6)"/><ellipse cx="622.2" cy="147.6" rx="5.3" ry="2.3" transform="rotate(-68 622.2 147.6)"/><ellipse cx="642" cy="138.5" rx="5.3" ry="2.3"/><ellipse cx="634.8" cy="144.6" rx="5.3" ry="2.3" transform="rotate(68 634.8 144.6)"/><ellipse cx="649.2" cy="144.6" rx="5.3" ry="2.3" transform="rotate(-68 649.2 144.6)"/><ellipse cx="669" cy="141.5" rx="5.3" ry="2.3"/><ellipse cx="661.8" cy="147.6" rx="5.3" ry="2.3" transform="rotate(68 661.8 147.6)"/><ellipse cx="676.2" cy="147.6" rx="5.3" ry="2.3" transform="rotate(-68 676.2 147.6)"/><ellipse cx="431.5" cy="146.4" rx="4.1" ry="1.9" transform="rotate(34.2 431.5 146.4)"/><ellipse cx="438.5" cy="151.1" rx="4.1" ry="1.9" transform="rotate(34.2 438.5 151.1)"/><ellipse cx="445.5" cy="155.9" rx="4.1" ry="1.9" transform="rotate(34.2 445.5 155.9)"/><ellipse cx="452.5" cy="160.6" rx="4.1" ry="1.9" transform="rotate(34.2 452.5 160.6)"/><ellipse cx="715.5" cy="304.5" rx="4.6" ry="2.2" transform="rotate(35 715.5 304.5)"/><ellipse cx="722.5" cy="310.5" rx="4.6" ry="2.2" transform="rotate(62 722.5 310.5)"/><ellipse cx="726.5" cy="318.5" rx="4.6" ry="2.2" transform="rotate(85 726.5 318.5)"/><ellipse cx="711" cy="208" rx="5.2" ry="2.3" transform="rotate(-40 711 208)"/><ellipse cx="718" cy="213" rx="5.2" ry="2.3" transform="rotate(55 718 213)"/><ellipse cx="722" cy="224" rx="5.2" ry="2.3" transform="rotate(80 722 224)"/><ellipse cx="726" cy="262" rx="4" ry="2.1" transform="rotate(90 726 262)"/><ellipse cx="710.1" cy="142.9" rx="3.4" ry="1.5" transform="rotate(146.9 710.1 142.9)"/><ellipse cx="704.4" cy="146.6" rx="3.4" ry="1.5" transform="rotate(146.9 704.4 146.6)"/><ellipse cx="698.6" cy="150.4" rx="3.4" ry="1.5" transform="rotate(146.9 698.6 150.4)"/><ellipse cx="692.9" cy="154.1" rx="3.4" ry="1.5" transform="rotate(146.9 692.9 154.1)"/><ellipse cx="414" cy="210" rx="4.5" ry="2" transform="rotate(80 414 210)"/><ellipse cx="414" cy="252" rx="4.5" ry="2" transform="rotate(80 414 252)"/><ellipse cx="428" cy="220" rx="4.5" ry="2" transform="rotate(60 428 220)"/><ellipse cx="412.5" cy="344" rx="4.8" ry="2.2" transform="rotate(80 412.5 344)"/><ellipse cx="418" cy="334" rx="4.8" ry="2.2" transform="rotate(30 418 334)"/><ellipse cx="426" cy="335" rx="4.8" ry="2.2" transform="rotate(-50 426 335)"/><ellipse cx="412" cy="85" rx="5.2" ry="2.3" transform="rotate(95 412 85)"/><ellipse cx="413" cy="74" rx="5.2" ry="2.3" transform="rotate(70 413 74)"/><ellipse cx="418.5" cy="65" rx="5.2" ry="2.3" transform="rotate(45 418.5 65)"/><ellipse cx="427" cy="59.5" rx="5.2" ry="2.3" transform="rotate(15 427 59.5)"/><ellipse cx="412" cy="296" rx="5.2" ry="2.3" transform="rotate(95 412 296)"/><ellipse cx="413" cy="285" rx="5.2" ry="2.3" transform="rotate(70 413 285)"/><ellipse cx="418.5" cy="276" rx="5.2" ry="2.3" transform="rotate(45 418.5 276)"/><ellipse cx="427" cy="270.5" rx="5.2" ry="2.3" transform="rotate(15 427 270.5)"/><ellipse cx="722" cy="146.2" rx="6.1" ry="2.4" transform="rotate(90 722 146.2)"/><ellipse cx="722" cy="158.8" rx="6.1" ry="2.4" transform="rotate(90 722 158.8)"/><ellipse cx="722" cy="171.2" rx="6.1" ry="2.4" transform="rotate(90 722 171.2)"/><ellipse cx="722" cy="183.8" rx="6.1" ry="2.4" transform="rotate(90 722 183.8)"/><ellipse cx="719" cy="97.5" rx="6.7" ry="2.4" transform="rotate(72.9 719 97.5)"/><ellipse cx="723" cy="110.5" rx="6.7" ry="2.4" transform="rotate(72.9 723 110.5)"/><ellipse cx="412.5" cy="131" rx="4.8" ry="2.2" transform="rotate(80 412.5 131)"/><ellipse cx="418" cy="121" rx="4.8" ry="2.2" transform="rotate(30 418 121)"/><ellipse cx="426" cy="122" rx="4.8" ry="2.2" transform="rotate(-50 426 122)"/></g><text x="528.4" y="38.5" font-size="11.2" font-weight="bold" text-anchor="start" font-family="Liberation Sans, Arial, sans-serif" fill="#111" textLength="65.5" lengthAdjust="spacingAndGlyphs">Diagrama 1</text><text x="737.8" y="164" font-size="11" font-weight="normal" text-anchor="middle" font-family="Liberation Sans, Arial, sans-serif" fill="#111">8</text><text x="737.8" y="213" font-size="11" font-weight="normal" text-anchor="middle" font-family="Liberation Sans, Arial, sans-serif" fill="#111">7</text><text x="737.8" y="231" font-size="11" font-weight="normal" text-anchor="middle" font-family="Liberation Sans, Arial, sans-serif" fill="#111">6</text><text x="737.8" y="250" font-size="11" font-weight="normal" text-anchor="middle" font-family="Liberation Sans, Arial, sans-serif" fill="#111">5</text><text x="737.8" y="268" font-size="11" font-weight="normal" text-anchor="middle" font-family="Liberation Sans, Arial, sans-serif" fill="#111">4</text><text x="737.8" y="293" font-size="11" font-weight="normal" text-anchor="middle" font-family="Liberation Sans, Arial, sans-serif" fill="#111">3</text><text x="737.8" y="321" font-size="11" font-weight="normal" text-anchor="middle" font-family="Liberation Sans, Arial, sans-serif" fill="#111">2</text><text x="737.8" y="342" font-size="11" font-weight="normal" text-anchor="middle" font-family="Liberation Sans, Arial, sans-serif" fill="#111">1</text><path d="M744 158.5H751M748.5 158.5V339M744 339H751" fill="none" stroke="#666" stroke-width="1"/><path d="M503.5 367V375M503.5 371H631.5M631.5 367V375" fill="none" stroke="#444" stroke-width="1.2"/><text x="760" y="263.8" font-size="11.5" font-weight="bold" text-anchor="start" font-family="Liberation Sans, Arial, sans-serif" fill="#111" textLength="23" lengthAdjust="spacingAndGlyphs">rep.</text><text x="556.2" y="385" font-size="11.5" font-weight="bold" text-anchor="start" font-family="Liberation Sans, Arial, sans-serif" fill="#111" textLength="22" lengthAdjust="spacingAndGlyphs">rep.</text></svg>
<svg class="abs" style="left:810px;top:50px" width="195" height="365" viewBox="810 50 195 365"><path d="M816.5 79V57.2H910V79" fill="none" stroke="#9d9d9d" stroke-width="1.6"/><text x="822" y="73" font-size="10.8" font-weight="bold" font-family="Liberation Sans, Arial, sans-serif" fill="#111">Diagramas 1 a 5</text><rect x="816.5" y="79" width="180" height="29.5" fill="none" stroke="#9d9d9d" stroke-width="1.6"/><rect x="816.5" y="108.5" width="180" height="7.7" fill="none" stroke="#9d9d9d" stroke-width="1.6"/><rect x="816.5" y="116.2" width="180" height="26.3" fill="none" stroke="#9d9d9d" stroke-width="1.6"/><rect x="816.5" y="142.5" width="180" height="26.3" fill="none" stroke="#9d9d9d" stroke-width="1.6"/><rect x="816.5" y="168.8" width="180" height="26.2" fill="none" stroke="#9d9d9d" stroke-width="1.6"/><rect x="816.5" y="195" width="180" height="26.4" fill="none" stroke="#9d9d9d" stroke-width="1.6"/><rect x="816.5" y="221.4" width="180" height="26.2" fill="none" stroke="#9d9d9d" stroke-width="1.6"/><rect x="816.5" y="247.6" width="180" height="26.4" fill="none" stroke="#9d9d9d" stroke-width="1.6"/><rect x="816.5" y="274" width="180" height="26.2" fill="none" stroke="#9d9d9d" stroke-width="1.6"/><rect x="816.5" y="300.2" width="180" height="26.3" fill="none" stroke="#9d9d9d" stroke-width="1.6"/><rect x="816.5" y="326.5" width="180" height="26.3" fill="none" stroke="#9d9d9d" stroke-width="1.6"/><rect x="816.5" y="352.8" width="180" height="26.2" fill="none" stroke="#9d9d9d" stroke-width="1.6"/><rect x="816.5" y="379" width="180" height="26.5" fill="none" stroke="#9d9d9d" stroke-width="1.6"/><path d="M852.5 221.4V405.5" fill="none" stroke="#9d9d9d" stroke-width="1.6"/><text x="857.5" y="133.2" font-size="11.5" textLength="21" lengthAdjust="spacingAndGlyphs" font-family="Liberation Sans, Arial, sans-serif" fill="#222">p.a.</text><text x="857.5" y="159.5" font-size="11.5" textLength="31.5" lengthAdjust="spacingAndGlyphs" font-family="Liberation Sans, Arial, sans-serif" fill="#222">p.a.d.</text><text x="857.5" y="185.7" font-size="11.5" textLength="95" lengthAdjust="spacingAndGlyphs" font-family="Liberation Sans, Arial, sans-serif" fill="#222">2 p.a. fechados j.</text><text x="855.5" y="212" font-size="10" textLength="129.6" lengthAdjust="spacingAndGlyphs" font-family="Liberation Sans, Arial, sans-serif" fill="#222">1 p.a.d. e 1 p.a. fechados j.</text><text x="855" y="238.3" font-size="10" textLength="134" lengthAdjust="spacingAndGlyphs" font-family="Liberation Sans, Arial, sans-serif" fill="#222">2 p.a. no mesmo p. de base</text><text x="855" y="264.6" font-size="10" textLength="134" lengthAdjust="spacingAndGlyphs" font-family="Liberation Sans, Arial, sans-serif" fill="#222">2 p.b. no mesmo p. de base</text><text x="857.5" y="290.9" font-size="11.5" textLength="24" lengthAdjust="spacingAndGlyphs" font-family="Liberation Sans, Arial, sans-serif" fill="#222">corr.</text><text x="857.5" y="317.2" font-size="11.5" textLength="21" lengthAdjust="spacingAndGlyphs" font-family="Liberation Sans, Arial, sans-serif" fill="#222">p.b.</text><text x="857.5" y="343.4" font-size="11.5" textLength="27.3" lengthAdjust="spacingAndGlyphs" font-family="Liberation Sans, Arial, sans-serif" fill="#222">p.bx.</text><text x="857" y="369.7" font-size="11.5" textLength="92" lengthAdjust="spacingAndGlyphs" font-family="Liberation Sans, Arial, sans-serif" fill="#222">início do trabalho</text><text x="857" y="396.1" font-size="11.5" textLength="80" lengthAdjust="spacingAndGlyphs" font-family="Liberation Sans, Arial, sans-serif" fill="#222">fim do trabalho</text><rect x="825.5" y="119.6" width="19.5" height="19.5" fill="#fff" stroke="#cfcfcf" stroke-width="1"/><rect x="825.5" y="145.9" width="19.5" height="19.5" fill="#fff" stroke="#cfcfcf" stroke-width="1"/><rect x="824.5" y="171.4" width="21" height="21" fill="#fff" stroke="#cfcfcf" stroke-width="1"/><rect x="824.5" y="197.7" width="21" height="21" fill="#fff" stroke="#cfcfcf" stroke-width="1"/><rect x="824" y="223.5" width="22" height="22" fill="#fff" stroke="#cfcfcf" stroke-width="1"/><rect x="824" y="249.8" width="22" height="22" fill="#fff" stroke="#cfcfcf" stroke-width="1"/><rect x="829" y="281.1" width="12" height="12" fill="#fff" stroke="#cfcfcf" stroke-width="1"/><rect x="825.5" y="303.9" width="19" height="19" fill="#fff" stroke="#cfcfcf" stroke-width="1"/><rect x="829" y="333.6" width="12" height="12" fill="#fff" stroke="#cfcfcf" stroke-width="1"/><rect x="822.3" y="354.9" width="25.5" height="22" fill="#fff" stroke="#cfcfcf" stroke-width="1"/><rect x="822.3" y="381.2" width="25.5" height="22" fill="#fff" stroke="#cfcfcf" stroke-width="1"/><path d="M835 121.3V137.3M832.5 121.3H837.5M833.3 130.8L836.7 128.8M835 147.7V163.7M832.5 147.7H837.5M833.3 155.2L836.7 153.2M833.3 158.2L836.7 156.2M835 173.9L830 190.9M835 173.9L840 190.9M832.5 173.9H837.5M831.3 183.9L834 181.9M836 181.9L838.7 183.9M835 200.2L830 217.2M835 200.2L840 217.2M832.5 200.2H837.5M831.3 209.2L834 207.2M831 211.7L833.7 209.7M836 208.2L838.7 210.2M827.5 226.5L835 243.5L842.5 226.5" fill="none" stroke="#111" stroke-width="1.2"/><path d="M827.5 253.8L835 267.8L842.5 253.8M826.5 256.8L832 258.8M838 258.8L843.5 256.8" fill="none" stroke="#1b9ad6" stroke-width="1.3"/><ellipse cx="835" cy="287.1" rx="3.6" ry="2" fill="none" stroke="#cc3328" stroke-width="1.2"/><path d="M835 308.4V318.4M830 313.4H840" stroke="#1b9ad6" stroke-width="2"/><circle cx="835" cy="339.6" r="2" fill="#1e9a3c"/><polygon points="842,358.8 827.9,367.1 835.6,367.1 837.3,375.3" fill="#fff" stroke="#111" stroke-width="1.3" stroke-linejoin="round"/><polygon points="843,401.2 835.8,385.1 835.1,393.7 826.4,394.1" fill="#111" stroke="#111" stroke-width="0.8" stroke-linejoin="round"/></svg>
<svg class="abs" style="left:390px;top:400px" width="380" height="360" viewBox="390 400 380 360"><path d="M574.9 591.3L614.5 601.9M615.9 596.6L613 607.2M595 592.6L598.3 601.7M569.9 599.8L598.9 628.8M602.8 624.9L595 632.7M586.7 611.1L585 620.5M561.4 604.8L572 644.4M577.3 642.9L566.7 645.8M570.3 622.9L564.2 630.2M551.6 604.8L541 644.4M546.3 645.8L535.7 642.9M550.3 624.9L541.2 628.2M543.1 599.8L514.1 628.8M518 632.7L510.2 624.9M531.8 616.6L522.4 614.9M538.1 591.3L498.5 601.9M500 607.2L497.1 596.6M520 600.2L512.7 594.1M538.1 581.5L498.5 570.9M497.1 576.2L500 565.6M518 580.2L514.7 571.1M543.1 573L514.1 544M510.2 547.9L518 540.1M526.3 561.7L528 552.3M551.6 568L541 528.4M535.7 529.9L546.3 527M542.7 549.9L548.8 542.6M561.4 568L572 528.4M566.7 527L577.3 529.9M562.7 547.9L571.8 544.6M569.9 573L598.9 544M595 540.1L602.8 547.9M581.2 556.2L590.6 557.9M645.4 610.2L689.4 603.9M688.6 598.4L690.1 609.3M666.5 603.5L672.6 610M645.4 610.2L680.3 637.7M683.7 633.4L676.9 642M664.8 620.8L664.3 629.8M651.5 586.4L693.5 586.4M693.5 580.9L693.5 591.9M672 582.7L677.2 590.1M621.6 651.5L662.8 668M664.9 662.9L660.8 673.1M643.2 656.2L645.3 664.9M621.6 651.5L638.1 692.7M643.2 690.7L633 694.8M633.1 670.4L628.2 677.9M638.8 633.9L675.1 654.9M677.9 650.1L672.4 659.7M658.4 641L659.2 649.9M580.3 675.3L607.8 710.2M612.1 706.8L603.5 713.6M596.7 690.2L594.1 698.8M580.3 675.3L574 719.3M579.4 720L568.5 718.5M580.9 697.4L572.8 701.5M604 668.7L625 705M629.8 702.3L620.2 707.8M617.5 684.6L613.6 692.8M532.7 675.3L539 719.3M544.5 718.5L533.6 720M539.4 696.4L532.9 702.5M532.7 675.3L505.2 710.2M509.5 713.6L500.9 706.8M522.1 694.7L513.1 694.2M556.5 681.4L556.5 723.4M562 723.4L551 723.4M560.2 701.9L552.8 707.1M491.4 651.5L474.9 692.7M480 694.8L469.8 690.7M486.7 673.1L478 675.2M491.4 651.5L450.2 668M452.2 673.1L448.1 662.9M472.5 663L465 658.1M509 668.7L488 705M492.8 707.8L483.2 702.3M501.9 688.3L493 689.1M467.6 610.2L432.7 637.7M436.1 642L429.3 633.4M452.7 626.6L444.1 624M467.6 610.2L423.6 603.9M422.9 609.3L424.4 598.4M445.5 610.8L441.4 602.7M474.2 633.9L437.9 654.9M440.6 659.7L435.1 650.1M458.3 647.4L450.1 643.5M467.6 562.6L423.6 568.9M424.4 574.4L422.9 563.5M446.5 569.3L440.4 562.8M467.6 562.6L432.7 535.1M429.3 539.4L436.1 530.8M448.2 552L448.7 543M461.5 586.4L419.5 586.4M419.5 591.9L419.5 580.9M441 590.1L435.8 582.7M491.4 521.3L450.2 504.8M448.1 509.9L452.2 499.7M469.8 516.6L467.7 507.9M491.4 521.3L474.9 480.1M469.8 482.1L480 478M479.9 502.4L484.8 494.9M474.2 538.9L437.9 517.9M435.1 522.7L440.6 513.1M454.6 531.8L453.8 522.9M532.7 497.5L505.2 462.6M500.9 466L509.5 459.2M516.3 482.6L518.9 474M532.7 497.5L539 453.5M533.6 452.8L544.5 454.3M532.1 475.4L540.2 471.3M509 504.1L488 467.8M483.2 470.5L492.8 465M495.5 488.2L499.4 480M580.3 497.5L574 453.5M568.5 454.3L579.4 452.8M573.6 476.4L580.1 470.3M580.3 497.5L607.8 462.6M603.5 459.2L612.1 466M590.9 478.1L599.9 478.6M556.5 491.4L556.5 449.4M551 449.4L562 449.4M552.8 470.9L560.2 465.7M621.6 521.3L638.1 480.1M633 478L643.2 482.1M626.3 499.7L635 497.6M621.6 521.3L662.8 504.8M660.8 499.7L664.9 509.9M640.5 509.8L648 514.7M604 504.1L625 467.8M620.2 465L629.8 470.5M611.1 484.5L620 483.7M645.4 562.6L680.3 535.1M676.9 530.8L683.7 539.4M660.3 546.2L668.9 548.8M645.4 562.6L689.4 568.9M690.1 563.5L688.6 574.4M667.5 562L671.6 570.1M638.8 538.9L675.1 517.9M672.4 513.1L677.9 522.7M654.7 525.4L662.9 529.3" fill="none" stroke="#1a1a1a" stroke-width="1.85" stroke-linecap="butt"/><path d="M620.3 603.5L639.7 595.6M633.2 593.9L630.6 603.6M620.3 603.5L633.2 620M629.3 608.6L626.7 618.2M603.2 633.1L624 636M619.2 631.3L612.1 638.4M603.2 633.1L606.1 653.9M608.5 642L601.4 649.1M573.6 650.2L590.1 663.1M588.3 656.6L578.7 659.2M573.6 650.2L565.7 669.6M573.7 660.5L564 663.1M539.4 650.2L547.3 669.6M549 663.1L539.3 660.5M539.4 650.2L522.9 663.1M534.3 659.2L524.7 656.6M509.8 633.1L506.9 653.9M511.6 649.1L504.5 642M509.8 633.1L489 636M500.9 638.4L493.8 631.3M492.7 603.5L479.8 620M486.3 618.2L483.7 608.6M492.7 603.5L473.3 595.6M482.4 603.6L479.8 593.9M492.7 569.3L473.3 577.2M479.8 578.9L482.4 569.2M492.7 569.3L479.8 552.8M483.7 564.2L486.3 554.6M509.8 539.7L489 536.8M493.8 541.5L500.9 534.4M509.8 539.7L506.9 518.9M504.5 530.8L511.6 523.7M539.4 522.6L522.9 509.7M524.7 516.2L534.3 513.6M539.4 522.6L547.3 503.2M539.3 512.3L549 509.7M573.6 522.6L565.7 503.2M564 509.7L573.7 512.3M573.6 522.6L590.1 509.7M578.7 513.6L588.3 516.2M603.2 539.7L606.1 518.9M601.4 523.7L608.5 530.8M603.2 539.7L624 536.8M612.1 534.4L619.2 541.5M620.3 569.3L633.2 552.8M626.7 554.6L629.3 564.2M620.3 569.3L639.7 577.2M630.6 569.2L633.2 578.9M697.5 586.4L714.3 573.8M707.6 573.8L707.6 583.8M697.5 586.4L714.3 599M707.6 589L707.6 599M696.8 611.1L713.6 614.1M706.7 604.3L703.7 621M689 634.6L709.1 628.5M702.8 626.2L699.3 635.6M689 634.6L700.4 652.2M697.6 640.5L694.1 649.9M679.9 657.6L694.6 666.1M691.5 654.5L683 669.3M664.5 677L685.5 678.1M680.3 673.9L673.9 681.5M664.5 677L669.2 697.5M670.6 685.5L664.1 693.1M648.1 695.6L659 708.6M660.1 696.6L647 707.5M627 708.5L646.3 716.7M642.9 710.9L634.3 715.9M627 708.5L624.4 729.4M629.8 718.5L621.1 723.5M605.2 720.3L611.1 736.3M616.1 725.4L600.2 731.2M581 725.3L596.3 739.6M595.1 733L585.3 734.7M581 725.3L571.5 744M580.2 735.6L570.3 737.4M556.5 728.9L556.5 745.9M565 737.4L548 737.4M532 725.3L541.5 744M542.7 737.4L532.8 735.6M532 725.3L516.7 739.6M527.7 734.7L517.9 733M507.8 720.3L501.9 736.3M512.8 731.2L496.9 725.4M486 708.5L488.6 729.4M491.9 723.5L483.2 718.5M486 708.5L466.7 716.7M478.7 715.9L470.1 710.9M464.9 695.6L454 708.6M466 707.5L452.9 696.6M448.5 677L443.8 697.5M448.9 693.1L442.4 685.5M448.5 677L427.5 678.1M439.1 681.5L432.7 673.9M433.1 657.6L418.4 666.1M430 669.3L421.5 654.5M424 634.6L412.6 652.2M418.9 649.9L415.4 640.5M424 634.6L403.9 628.5M413.7 635.6L410.2 626.2M416.2 611.1L399.4 614.1M409.3 621L406.3 604.3M415.5 586.4L398.7 599M405.4 599L405.4 589M415.5 586.4L398.7 573.8M405.4 583.8L405.4 573.8M416.2 561.7L399.4 558.7M406.3 568.5L409.3 551.8M424 538.2L403.9 544.3M410.2 546.6L413.7 537.2M424 538.2L412.6 520.6M415.4 532.3L418.9 522.9M433.1 515.1L418.4 506.6M421.5 518.3L430 503.5M448.5 495.8L427.5 494.7M432.7 498.9L439.1 491.3M448.5 495.8L443.8 475.3M442.4 487.3L448.9 479.7M464.9 477.2L454 464.2M452.9 476.2L466 465.3M486 464.3L466.7 456.1M470.1 461.9L478.7 456.9M486 464.3L488.6 443.4M483.2 454.3L491.9 449.3M507.8 452.5L501.9 436.5M496.9 447.4L512.8 441.6M532 447.5L516.7 433.2M517.9 439.8L527.7 438.1M532 447.5L541.5 428.8M532.8 437.2L542.7 435.4M556.5 443.9L556.5 426.9M548 435.4L565 435.4M581 447.5L571.5 428.8M570.3 435.4L580.2 437.2M581 447.5L596.3 433.2M585.3 438.1L595.1 439.8M605.2 452.5L611.1 436.5M600.2 441.6L616.1 447.4M627 464.3L624.4 443.4M621.1 449.3L629.8 454.3M627 464.3L646.3 456.1M634.3 456.9L642.9 461.9M648.1 477.2L659 464.2M647 465.3L660.1 476.2M664.5 495.8L669.2 475.3M664.1 479.7L670.6 487.3M664.5 495.8L685.5 494.7M673.9 491.3L680.3 498.9M679.9 515.1L694.6 506.6M683 503.5L691.5 518.3M689 538.2L700.4 520.6M694.1 522.9L697.6 532.3M689 538.2L709.1 544.3M699.3 537.2L702.8 546.6M696.8 561.7L713.6 558.7M703.7 551.8L706.7 568.5" fill="none" stroke="#1b9ad6" stroke-width="2.3"/><g fill="none" stroke="#cc3328" stroke-width="1.6"><ellipse cx="570.3" cy="590.1" rx="8" ry="3.9" transform="rotate(105 570.3 590.1)"/><ellipse cx="560.2" cy="600.2" rx="8" ry="3.9" transform="rotate(165 560.2 600.2)"/><ellipse cx="546.4" cy="596.5" rx="8" ry="3.9" transform="rotate(225 546.4 596.5)"/><ellipse cx="542.7" cy="582.7" rx="8" ry="3.9" transform="rotate(285 542.7 582.7)"/><ellipse cx="552.8" cy="572.6" rx="8" ry="3.9" transform="rotate(345 552.8 572.6)"/><ellipse cx="566.6" cy="576.3" rx="8" ry="3.9" transform="rotate(405 566.6 576.3)"/><ellipse cx="582.4" cy="577.6" rx="6.7" ry="3.2" transform="rotate(-20 582.4 577.6)"/><ellipse cx="595" cy="572.9" rx="6.7" ry="3.2" transform="rotate(-20 595 572.9)"/><ellipse cx="608.1" cy="568.1" rx="6.7" ry="3.2" transform="rotate(-20 608.1 568.1)"/><ellipse cx="632.9" cy="575.7" rx="7.3" ry="3.3" transform="rotate(-8 632.9 575.7)"/><ellipse cx="659.5" cy="572.9" rx="6.8" ry="3.2" transform="rotate(-10 659.5 572.9)"/><ellipse cx="673.5" cy="569.3" rx="6.8" ry="3.2" transform="rotate(-10 673.5 569.3)"/><ellipse cx="687.1" cy="567.1" rx="6.8" ry="3.2" transform="rotate(-10 687.1 567.1)"/><ellipse cx="710" cy="573.8" rx="7.3" ry="3.3" transform="rotate(-5 710 573.8)"/></g><circle cx="571.9" cy="582.4" r="2" fill="#1e9a3c"/><circle cx="616.7" cy="578.6" r="2.6" fill="#1e9a3c"/><circle cx="645.2" cy="579.5" r="3.4" fill="#1e9a3c"/><circle cx="694.2" cy="574.8" r="3.4" fill="#1e9a3c"/><circle cx="723.3" cy="576.7" r="3.4" fill="#1e9a3c"/><polygon points="733.6,580 755.5,578.9 747.5,584.4 750.5,594.1" fill="#111"/><text x="596" y="561" font-size="11.5" font-weight="normal" text-anchor="middle" font-family="Liberation Sans, Arial, sans-serif" fill="#111" fill-opacity="0.85">1</text><text x="613.6" y="551" font-size="11.5" font-weight="normal" text-anchor="middle" font-family="Liberation Sans, Arial, sans-serif" fill="#111" fill-opacity="0.85">2</text><text x="657.6" y="548" font-size="11.5" font-weight="normal" text-anchor="middle" font-family="Liberation Sans, Arial, sans-serif" fill="#111" fill-opacity="0.85">3</text><text x="675" y="510" font-size="11.5" font-weight="normal" text-anchor="middle" font-family="Liberation Sans, Arial, sans-serif" fill="#111" fill-opacity="0.85">4</text><text x="472.5" y="414.5" font-size="11.2" font-weight="bold" text-anchor="start" font-family="Liberation Sans, Arial, sans-serif" fill="#111" textLength="122" lengthAdjust="spacingAndGlyphs">Diagrama 2 – laranja</text></svg>
<svg class="abs" style="left:420px;top:765px" width="380" height="390" viewBox="420 765 380 390"><path d="M633.1 959.6L672.7 970.2M674.1 964.9L671.2 975.5M653.2 960.9L656.5 970M628.1 968.1L657.1 997.1M661 993.2L653.2 1001M644.9 979.4L643.2 988.8M619.6 973.1L630.2 1012.7M635.5 1011.2L624.9 1014.1M628.5 991.2L622.4 998.5M609.8 973.1L599.2 1012.7M604.5 1014.1L593.9 1011.2M608.5 993.2L599.4 996.5M601.3 968.1L572.3 997.1M576.2 1001L568.4 993.2M590 984.9L580.6 983.2M596.3 959.6L556.7 970.2M558.2 975.5L555.3 964.9M578.2 968.5L570.9 962.4M601.3 941.3L572.3 912.3M568.4 916.2L576.2 908.4M584.5 930L586.2 920.6M609.8 936.3L599.2 896.7M593.9 898.2L604.5 895.3M600.9 918.2L607 910.9M619.6 936.3L630.2 896.7M624.9 895.3L635.5 898.2M620.9 916.2L630 912.9M628.1 941.3L657.1 912.3M653.2 908.4L661 916.2M639.4 924.5L648.8 926.2M633.1 949.8L672.7 939.2M671.2 933.9L674.1 944.5M651.2 940.9L658.5 947M703.6 978.5L747.6 972.2M746.8 966.7L748.3 977.6M724.7 971.8L730.8 978.3M703.6 978.5L738.5 1006M741.9 1001.7L735.1 1010.3M723 989.1L722.5 998.1M709.7 954.7L751.7 954.7M751.7 949.2L751.7 960.2M730.2 951L735.4 958.4M679.8 1019.8L721 1036.3M723.1 1031.2L719 1041.4M701.4 1024.5L703.5 1033.2M679.8 1019.8L696.3 1061M701.4 1059L691.2 1063.1M691.3 1038.7L686.4 1046.2M697 1002.2L733.3 1023.2M736.1 1018.4L730.6 1028M716.6 1009.3L717.4 1018.2M638.5 1043.6L666 1078.5M670.3 1075.1L661.7 1081.9M654.9 1058.5L652.3 1067.1M638.5 1043.6L632.2 1087.6M637.6 1088.3L626.7 1086.8M639.1 1065.7L631 1069.8M662.2 1037L683.2 1073.3M688 1070.6L678.4 1076.1M675.7 1052.9L671.8 1061.1M590.9 1043.6L597.2 1087.6M602.7 1086.8L591.8 1088.3M597.6 1064.7L591.1 1070.8M590.9 1043.6L563.4 1078.5M567.7 1081.9L559.1 1075.1M580.3 1063L571.3 1062.5M614.7 1049.7L614.7 1091.7M620.2 1091.7L609.2 1091.7M618.4 1070.2L611 1075.4M549.6 1019.8L533.1 1061M538.2 1063.1L528 1059M544.9 1041.4L536.2 1043.5M549.6 1019.8L508.4 1036.3M510.4 1041.4L506.3 1031.2M530.7 1031.3L523.2 1026.4M567.2 1037L546.2 1073.3M551 1076.1L541.4 1070.6M560.1 1056.6L551.2 1057.4M525.8 978.5L490.9 1006M494.3 1010.3L487.5 1001.7M510.9 994.9L502.3 992.3M525.8 978.5L481.8 972.2M481.1 977.6L482.6 966.7M503.7 979.1L499.6 971M532.4 1002.2L496.1 1023.2M498.8 1028L493.3 1018.4M516.5 1015.7L508.3 1011.8M525.8 930.9L481.8 937.2M482.6 942.7L481.1 931.8M504.7 937.6L498.6 931.1M525.8 930.9L490.9 903.4M487.5 907.7L494.3 899.1M506.4 920.3L506.9 911.3M519.7 954.7L477.7 954.7M477.7 960.2L477.7 949.2M499.2 958.4L494 951M549.6 889.6L508.4 873.1M506.3 878.2L510.4 868M528 884.9L525.9 876.2M549.6 889.6L533.1 848.4M528 850.4L538.2 846.3M538.1 870.7L543 863.2M532.4 907.2L496.1 886.2M493.3 891L498.8 881.4M512.8 900.1L512 891.2M590.9 865.8L563.4 830.9M559.1 834.3L567.7 827.5M574.5 850.9L577.1 842.3M590.9 865.8L597.2 821.8M591.8 821.1L602.7 822.6M590.3 843.7L598.4 839.6M567.2 872.4L546.2 836.1M541.4 838.8L551 833.3M553.7 856.5L557.6 848.3M638.5 865.8L632.2 821.8M626.7 822.6L637.6 821.1M631.8 844.7L638.3 838.6M638.5 865.8L666 830.9M661.7 827.5L670.3 834.3M649.1 846.4L658.1 846.9M614.7 859.7L614.7 817.7M609.2 817.7L620.2 817.7M611 839.2L618.4 834M679.8 889.6L696.3 848.4M691.2 846.3L701.4 850.4M684.5 868L693.2 865.9M679.8 889.6L721 873.1M719 868L723.1 878.2M698.7 878.1L706.2 883M662.2 872.4L683.2 836.1M678.4 833.3L688 838.8M669.3 852.8L678.2 852M703.6 930.9L738.5 903.4M735.1 899.1L741.9 907.7M718.5 914.5L727.1 917.1M703.6 930.9L747.6 937.2M748.3 931.8L746.8 942.7M725.7 930.3L729.8 938.4M697 907.2L733.3 886.2M730.6 881.4L736.1 891M712.9 893.7L721.1 897.6M587 1095L581 1133M585.4 1133.7L576.6 1132.3M587.3 1114.1L580.1 1117.7M613 1097L602 1147.6M606.4 1148.6L597.6 1146.6M611.2 1120.8L603.8 1123.8M610.1 1125.8L602.7 1128.9M613 1097L629.5 1145.7M633.8 1144.3L625.2 1147.1M623.6 1118.1L618.9 1124.6M625.3 1123L620.5 1129.4M639 1096L646.7 1133M651.1 1132.1L642.3 1133.9M646 1113.4L640.5 1119.3" fill="none" stroke="#1a1a1a" stroke-width="1.85" stroke-linecap="butt"/><path d="M678.5 971.8L697.9 963.9M691.4 962.2L688.8 971.9M678.5 971.8L691.4 988.3M687.5 976.9L684.9 986.5M661.4 1001.4L682.2 1004.3M677.4 999.6L670.3 1006.7M661.4 1001.4L664.3 1022.2M666.7 1010.3L659.6 1017.4M631.8 1018.5L648.3 1031.4M646.5 1024.9L636.9 1027.5M631.8 1018.5L623.9 1037.9M631.9 1028.8L622.2 1031.4M597.6 1018.5L605.5 1037.9M607.2 1031.4L597.5 1028.8M597.6 1018.5L581.1 1031.4M592.5 1027.5L582.9 1024.9M568 1001.4L565.1 1022.2M569.8 1017.4L562.7 1010.3M568 1001.4L547.2 1004.3M559.1 1006.7L552 999.6M550.9 971.8L538 988.3M544.5 986.5L541.9 976.9M550.9 971.8L531.5 963.9M540.6 971.9L538 962.2M550.9 937.6L531.5 945.5M538 947.2L540.6 937.5M550.9 937.6L538 921.1M541.9 932.5L544.5 922.9M568 908L547.2 905.1M552 909.8L559.1 902.7M568 908L565.1 887.2M562.7 899.1L569.8 892M597.6 890.9L581.1 878M582.9 884.5L592.5 881.9M597.6 890.9L605.5 871.5M597.5 880.6L607.2 878M631.8 890.9L623.9 871.5M622.2 878L631.9 880.6M631.8 890.9L648.3 878M636.9 881.9L646.5 884.5M661.4 908L664.3 887.2M659.6 892L666.7 899.1M661.4 908L682.2 905.1M670.3 902.7L677.4 909.8M678.5 937.6L691.4 921.1M684.9 922.9L687.5 932.5M678.5 937.6L697.9 945.5M688.8 937.5L691.4 947.2M755.7 954.7L772.5 942.1M765.8 942.1L765.8 952.1M755.7 954.7L772.5 967.3M765.8 957.3L765.8 967.3M755 979.4L771.8 982.4M764.9 972.6L761.9 989.3M747.2 1002.9L767.3 996.8M761 994.5L757.5 1003.9M747.2 1002.9L758.6 1020.5M755.8 1008.8L752.3 1018.2M738.1 1026L752.8 1034.5M749.7 1022.8L741.2 1037.6M722.7 1045.3L743.7 1046.4M738.5 1042.2L732.1 1049.8M722.7 1045.3L727.4 1065.8M728.8 1053.8L722.3 1061.4M706.3 1063.9L717.2 1076.9M718.3 1064.9L705.2 1075.8M685.2 1076.8L704.5 1085M701.1 1079.2L692.5 1084.2M685.2 1076.8L682.6 1097.7M688 1086.8L679.3 1091.8M663.4 1088.6L669.3 1104.6M674.3 1093.7L658.4 1099.5M566 1088.6L560.1 1104.6M571 1099.5L555.1 1093.7M544.2 1076.8L546.8 1097.7M550.1 1091.8L541.4 1086.8M544.2 1076.8L524.9 1085M536.9 1084.2L528.3 1079.2M523.1 1063.9L512.2 1076.9M524.2 1075.8L511.1 1064.9M506.7 1045.3L502 1065.8M507.1 1061.4L500.6 1053.8M506.7 1045.3L485.7 1046.4M497.3 1049.8L490.9 1042.2M491.3 1026L476.6 1034.5M488.2 1037.6L479.7 1022.8M482.2 1002.9L470.8 1020.5M477.1 1018.2L473.6 1008.8M482.2 1002.9L462.1 996.8M471.9 1003.9L468.4 994.5M474.4 979.4L457.6 982.4M467.5 989.3L464.5 972.6M473.7 954.7L456.9 967.3M463.6 967.3L463.6 957.3M473.7 954.7L456.9 942.1M463.6 952.1L463.6 942.1M474.4 930L457.6 927M464.5 936.8L467.5 920.1M482.2 906.5L462.1 912.6M468.4 914.9L471.9 905.5M482.2 906.5L470.8 888.9M473.6 900.6L477.1 891.2M491.3 883.5L476.6 875M479.7 886.6L488.2 871.8M506.7 864.1L485.7 863M490.9 867.2L497.3 859.6M506.7 864.1L502 843.6M500.6 855.6L507.1 848M523.1 845.5L512.2 832.5M511.1 844.5L524.2 833.6M544.2 832.6L524.9 824.4M528.3 830.2L536.9 825.2M544.2 832.6L546.8 811.7M541.4 822.6L550.1 817.6M566 820.8L560.1 804.8M555.1 815.7L571 809.9M590.2 815.8L574.9 801.5M576.1 808.1L585.9 806.4M590.2 815.8L599.7 797.1M591 805.5L600.9 803.7M614.7 812.2L614.7 795.2M606.2 803.7L623.2 803.7M639.2 815.8L629.7 797.1M628.5 803.7L638.4 805.5M639.2 815.8L654.5 801.5M643.5 806.4L653.3 808.1M663.4 820.8L669.3 804.8M658.4 809.9L674.3 815.7M685.2 832.6L682.6 811.7M679.3 817.6L688 822.6M685.2 832.6L704.5 824.4M692.5 825.2L701.1 830.2M706.3 845.5L717.2 832.5M705.2 833.6L718.3 844.5M722.7 864.1L727.4 843.6M722.3 848L728.8 855.6M722.7 864.1L743.7 863M732.1 859.6L738.5 867.2M738.1 883.4L752.8 874.9M741.2 871.8L749.7 886.6M747.2 906.5L758.6 888.9M752.3 891.2L755.8 900.6M747.2 906.5L767.3 912.6M757.5 905.5L761 914.9M755 930L771.8 927M761.9 920.1L764.9 936.8" fill="none" stroke="#1b9ad6" stroke-width="2.3"/><g fill="none" stroke="#cc3328" stroke-width="1.6"><ellipse cx="628.5" cy="958.4" rx="8" ry="3.9" transform="rotate(105 628.5 958.4)"/><ellipse cx="618.4" cy="968.5" rx="8" ry="3.9" transform="rotate(165 618.4 968.5)"/><ellipse cx="604.6" cy="964.8" rx="8" ry="3.9" transform="rotate(225 604.6 964.8)"/><ellipse cx="600.9" cy="951" rx="8" ry="3.9" transform="rotate(285 600.9 951)"/><ellipse cx="611" cy="940.9" rx="8" ry="3.9" transform="rotate(345 611 940.9)"/><ellipse cx="624.8" cy="944.6" rx="8" ry="3.9" transform="rotate(405 624.8 944.6)"/><ellipse cx="558.6" cy="944.4" rx="6.9" ry="3.3" transform="rotate(10 558.6 944.4)"/><ellipse cx="571.8" cy="947.3" rx="6.9" ry="3.3" transform="rotate(10 571.8 947.3)"/><ellipse cx="585.3" cy="949.6" rx="6.9" ry="3.3" transform="rotate(10 585.3 949.6)"/><ellipse cx="540.8" cy="925" rx="7.3" ry="3.3" transform="rotate(25 540.8 925)"/><ellipse cx="489.8" cy="906.4" rx="6.9" ry="3.3" transform="rotate(20 489.8 906.4)"/><ellipse cx="503.2" cy="911.3" rx="6.9" ry="3.3" transform="rotate(20 503.2 911.3)"/><ellipse cx="517.3" cy="916.1" rx="6.9" ry="3.3" transform="rotate(20 517.3 916.1)"/><ellipse cx="474.1" cy="888.6" rx="7.3" ry="3.3" transform="rotate(20 474.1 888.6)"/></g><circle cx="597" cy="950.9" r="2" fill="#1e9a3c"/><circle cx="556.1" cy="931.5" r="2.6" fill="#1e9a3c"/><circle cx="532.2" cy="915.3" r="3.4" fill="#1e9a3c"/><circle cx="487.4" cy="895" r="3.4" fill="#1e9a3c"/><circle cx="463.1" cy="878.9" r="3.4" fill="#1e9a3c"/><polygon points="456.6,872.2 448.4,851.2 447.6,861.7 436.4,862.4" fill="#111"/><text x="573" y="982" font-size="11.5" font-weight="normal" text-anchor="middle" font-family="Liberation Sans, Arial, sans-serif" fill="#111" fill-opacity="0.85">1</text><text x="555" y="1001" font-size="11.5" font-weight="normal" text-anchor="middle" font-family="Liberation Sans, Arial, sans-serif" fill="#111" fill-opacity="0.85">2</text><text x="515" y="1000" font-size="11.5" font-weight="normal" text-anchor="middle" font-family="Liberation Sans, Arial, sans-serif" fill="#111" fill-opacity="0.85">3</text><text x="485" y="1021" font-size="11.5" font-weight="normal" text-anchor="middle" font-family="Liberation Sans, Arial, sans-serif" fill="#111" fill-opacity="0.85">4</text><text x="552" y="783.5" font-size="11.2" font-weight="bold" text-anchor="start" font-family="Liberation Sans, Arial, sans-serif" fill="#111" textLength="114" lengthAdjust="spacingAndGlyphs">Diagrama 3 – limão</text></svg>
<svg class="abs" style="left:800px;top:440px" width="210" height="190" viewBox="800 440 210 190"><path d="M808 618.6A116 116 0 0 1 985 618.6Z" fill="#f9dc8c"/><path d="M873 506L912 506M873 501.5L873 510.5M879 509.5L885 502.5M873 522.5L912 522.5M873 518L873 527M879 526L885 519M873 539L912 539M873 534.5L873 543.5M879 542.5L885 535.5M873 555.5L912 555.5M873 551L873 560M879 559L885 552M873 572L912 572M873 567.5L873 576.5M879 575.5L885 568.5" fill="none" stroke="#1a1a1a" stroke-width="1.5" stroke-linecap="butt"/><g fill="none" stroke="#cc3328" stroke-width="1.5"><ellipse cx="920.6" cy="491" rx="8.2" ry="4.2" transform="rotate(90 920.6 491)"/><ellipse cx="920.6" cy="507.5" rx="8.2" ry="4.2" transform="rotate(90 920.6 507.5)"/><ellipse cx="920.6" cy="524" rx="8.2" ry="4.2" transform="rotate(90 920.6 524)"/><ellipse cx="920.6" cy="540.5" rx="8.2" ry="4.2" transform="rotate(90 920.6 540.5)"/><ellipse cx="920.6" cy="557" rx="8.2" ry="4.2" transform="rotate(90 920.6 557)"/><ellipse cx="920.6" cy="573.5" rx="8.2" ry="4.2" transform="rotate(90 920.6 573.5)"/><ellipse cx="879" cy="486.4" rx="7.2" ry="3.2"/><ellipse cx="893" cy="486.4" rx="7.2" ry="3.2"/><ellipse cx="907" cy="486.4" rx="7.2" ry="3.2"/></g><circle cx="872" cy="583.6" r="2.4" fill="#1e9a3c"/><circle cx="919" cy="583.6" r="2.4" fill="#1e9a3c"/><polygon points="867.9,578.7 862.2,566.5 862,572 855,573.3" fill="#111"/><polygon points="917.4,587 905.2,594.3 911,594.7 913.6,600.4" fill="#fff" stroke="#111" stroke-width="1.3" stroke-linejoin="round"/><text x="860" y="460" font-size="11.2" font-weight="bold" text-anchor="start" font-family="Liberation Sans, Arial, sans-serif" fill="#111" textLength="93" lengthAdjust="spacingAndGlyphs">Diagrama – talo</text></svg>
<svg class="abs" style="left:800px;top:655px" width="210" height="330" viewBox="800 655 210 330"><path d="M822 977A115.3 115.3 0 0 1 1000 977Z" fill="#f9dc8c"/><path d="M878.5 746.4L903 746.4M878.5 742.4L878.5 750.4M917 746.4L941.8 746.4M941.8 742.4L941.8 750.4M878.5 764L903 764M878.5 760L878.5 768M917 764L941.8 764M941.8 760L941.8 768M874 781.6L903 781.6M874 777.6L874 785.6M917 781.6L946.5 781.6M946.5 777.6L946.5 785.6M880 784.1L884 779.1M936.5 784.1L940.5 779.1M874 798L903 798M874 794L874 802M917 798L946.5 798M946.5 794L946.5 802M880 800.5L884 795.5M936.5 800.5L940.5 795.5M869.6 815.5L903 815.5M869.6 811.5L869.6 819.5M917 815.5L950 815.5M950 811.5L950 819.5M875.6 818L879.6 813M940 818L944 813M879.1 818L883.1 813M943.5 818L947.5 813M869.6 832.4L903 832.4M869.6 828.4L869.6 836.4M917 832.4L950 832.4M950 828.4L950 836.4M875.6 834.9L879.6 829.9M940 834.9L944 829.9M879.1 834.9L883.1 829.9M943.5 834.9L947.5 829.9M874 849L903 849M874 845L874 853M917 849L946.5 849M946.5 845L946.5 853M880 851.5L884 846.5M936.5 851.5L940.5 846.5M874 866L903 866M874 862L874 870M917 866L946.5 866M946.5 862L946.5 870M880 868.5L884 863.5M936.5 868.5L940.5 863.5M878.5 882.3L903 882.3M878.5 878.3L878.5 886.3M917 882.3L941.8 882.3M941.8 878.3L941.8 886.3M878.5 900.6L903 900.6M878.5 896.6L878.5 904.6M917 900.6L941.8 900.6M941.8 896.6L941.8 904.6" fill="none" stroke="#1a1a1a" stroke-width="1.5" stroke-linecap="butt"/><path d="M888.3 730.4L900.3 730.4M894.3 724.4L894.3 736.4M920 730.4L932 730.4M926 724.4L926 736.4M884.1 917.2L896.1 917.2M890.1 911.2L890.1 923.2M922.2 917.2L934.2 917.2M928.2 911.2L928.2 923.2M904.3 936.6L916.3 936.6M910.3 930.6L910.3 942.6" fill="none" stroke="#1b9ad6" stroke-width="1.6"/><g fill="none" stroke="#cc3328" stroke-width="1.4"><ellipse cx="910" cy="731.5" rx="8.3" ry="4" transform="rotate(90 910 731.5)"/><ellipse cx="910" cy="748.4" rx="8.3" ry="4" transform="rotate(90 910 748.4)"/><ellipse cx="910" cy="765.3" rx="8.3" ry="4" transform="rotate(90 910 765.3)"/><ellipse cx="910" cy="782.2" rx="8.3" ry="4" transform="rotate(90 910 782.2)"/><ellipse cx="910" cy="799.1" rx="8.3" ry="4" transform="rotate(90 910 799.1)"/><ellipse cx="910" cy="816" rx="8.3" ry="4" transform="rotate(90 910 816)"/><ellipse cx="910" cy="832.9" rx="8.3" ry="4" transform="rotate(90 910 832.9)"/><ellipse cx="910" cy="849.8" rx="8.3" ry="4" transform="rotate(90 910 849.8)"/><ellipse cx="910" cy="866.7" rx="8.3" ry="4" transform="rotate(90 910 866.7)"/><ellipse cx="910" cy="883.6" rx="8.3" ry="4" transform="rotate(90 910 883.6)"/><ellipse cx="910" cy="900.5" rx="8.3" ry="4" transform="rotate(90 910 900.5)"/><ellipse cx="910" cy="917.4" rx="8.3" ry="4" transform="rotate(90 910 917.4)"/><ellipse cx="910" cy="702.2" rx="8" ry="3.5"/><ellipse cx="896.2" cy="712.9" rx="8" ry="3.3" transform="rotate(-61 896.2 712.9)"/><ellipse cx="922.8" cy="713" rx="8" ry="3.3" transform="rotate(61 922.8 713)"/></g><circle cx="891.7" cy="940" r="2.5" fill="#1e9a3c"/><polygon points="884,934.7 876,924.4 877.2,929.7 871.1,931.7" fill="#111"/><polygon points="911.1,720.5 908.6,708.7 906.5,714 902,713.2" fill="#fff" stroke="#111" stroke-width="1.2" stroke-linejoin="round"/><text x="852.7" y="675" font-size="11.2" font-weight="bold" text-anchor="start" font-family="Liberation Sans, Arial, sans-serif" fill="#111" xml:space="preserve" textLength="115" lengthAdjust="spacingAndGlyphs">Diagrama 4 –  folha</text></svg>
<svg class="abs" style="left:780px;top:1015px" width="200" height="325" viewBox="780 1015 200 325"><defs><pattern id="lace" x="788.7" y="1237.3" width="14" height="12" patternUnits="userSpaceOnUse"><rect width="14" height="12" fill="#f9ecb9"/><path d="M0 10 Q7 1 14 10" fill="none" stroke="#f3dc94" stroke-width="1.4"/><path d="M7 3l2 2.2-2 2.2-2-2.2z" fill="#fdf8e6"/></pattern></defs><rect x="788.7" y="1025.2" width="143" height="212.3" fill="#fcdf8e"/><rect x="788.7" y="1237.3" width="143" height="47" fill="url(#lace)"/><path d="M788.7 1237.3H931.7" stroke="#f6d77c" stroke-width="1.5"/><path d="M788.7 1284 Q800.6 1292 812.5 1284 Q824.4 1292 836.4 1284 Q848.3 1292 860.2 1284 Q872.1 1292 884 1284 Q895.9 1292 907.9 1284 Q919.8 1292 931.7 1284V1280H788.7Z" fill="#f9ecb9"/><circle cx="800" cy="1295" r="7.3" fill="#f7c9a1" stroke="#ecb690" stroke-width="0.8"/><path d="M799 1288 l-10 -8 q7 -1 10 8z" fill="#8fc79a"/><path d="M801 1288 l3 -5" stroke="#d9a066" stroke-width="2"/><circle cx="825.5" cy="1295" r="7.3" fill="#cfe9cf" stroke="#b5d9b5" stroke-width="0.8"/><path d="M824.5 1288 l-10 -8 q7 -1 10 8z" fill="#8fc79a"/><path d="M826.5 1288 l3 -5" stroke="#d9a066" stroke-width="2"/><circle cx="852" cy="1295" r="7.3" fill="#f7c9a1" stroke="#ecb690" stroke-width="0.8"/><path d="M851 1288 l-10 -8 q7 -1 10 8z" fill="#8fc79a"/><path d="M853 1288 l3 -5" stroke="#d9a066" stroke-width="2"/><circle cx="879" cy="1295" r="7.3" fill="#cfe9cf" stroke="#b5d9b5" stroke-width="0.8"/><path d="M878 1288 l-10 -8 q7 -1 10 8z" fill="#8fc79a"/><path d="M880 1288 l3 -5" stroke="#d9a066" stroke-width="2"/><circle cx="906" cy="1295" r="7.3" fill="#f7c9a1" stroke="#ecb690" stroke-width="0.8"/><path d="M905 1288 l-10 -8 q7 -1 10 8z" fill="#8fc79a"/><path d="M907 1288 l3 -5" stroke="#d9a066" stroke-width="2"/><circle cx="926" cy="1295" r="7.3" fill="#cfe9cf" stroke="#b5d9b5" stroke-width="0.8"/><path d="M925 1288 l-10 -8 q7 -1 10 8z" fill="#8fc79a"/><path d="M927 1288 l3 -5" stroke="#d9a066" stroke-width="2"/><path d="M941.5 1025.2V1238.5M936 1025.2H947M935 1238.5H945.5M936.5 1241.3H945.7M941.5 1241.3V1286.4M937 1286.4H945.7M939 1289.4H947.7M943.9 1289.4V1312M939 1312H947.7" fill="none" stroke="#333" stroke-width="1"/><path d="M793.4 1314.7H935.5M793.4 1309.5V1320M935.5 1309.5V1320" fill="none" stroke="#333" stroke-width="1"/><text x="857" y="1327.5" font-size="11.5" font-weight="bold" text-anchor="middle" font-family="Liberation Sans, Arial, sans-serif" fill="#111">00 cm</text><text x="0" y="0" transform="translate(955.5 1143.6) rotate(-90)" font-size="11.5" font-weight="bold" text-anchor="middle" font-family="Liberation Sans, Arial, sans-serif" fill="#111">00 cm</text></svg>
</body></html>
